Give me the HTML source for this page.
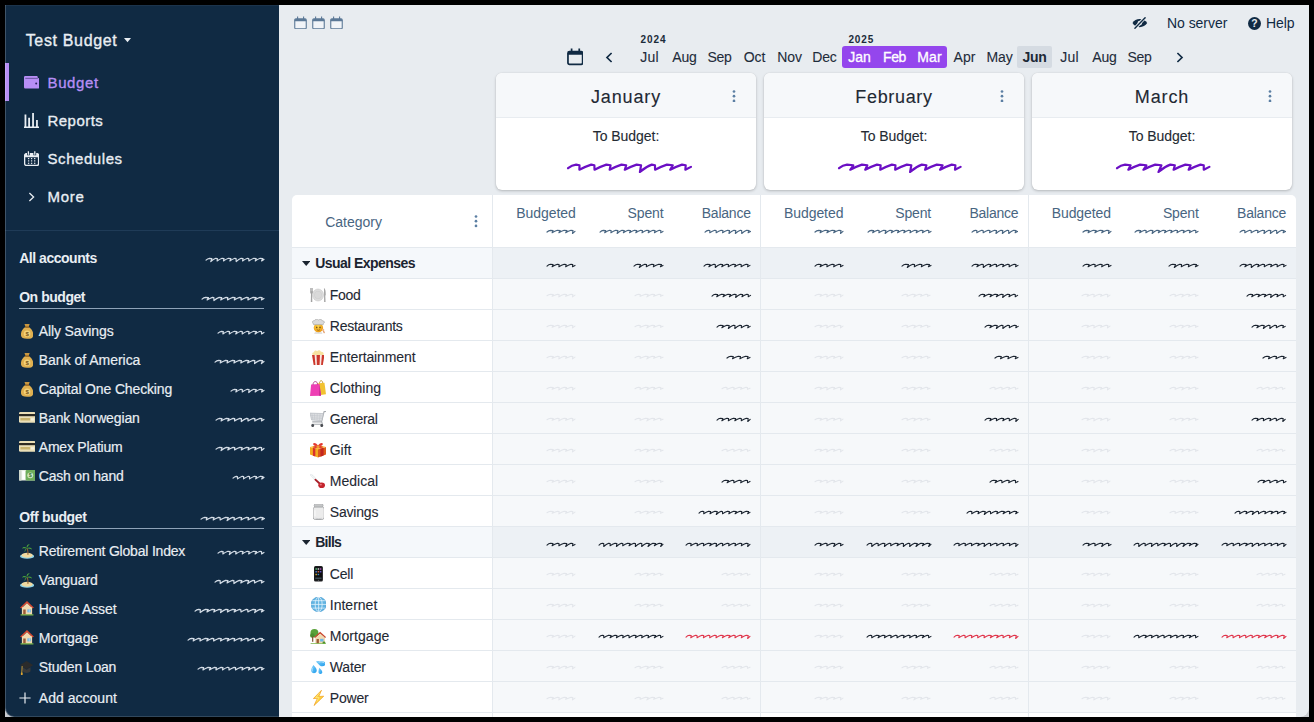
<!DOCTYPE html>
<html><head><meta charset="utf-8"><title>Actual</title>
<style>
html,body{margin:0;padding:0;background:#000;}
body{width:1314px;height:722px;overflow:hidden;position:relative;font-family:"Liberation Sans",sans-serif;}
#win{position:absolute;left:5px;top:5px;width:1304px;height:712px;background:#E8ECF0;overflow:hidden;border-radius:0 0 9px 9px;}
.a{position:absolute;display:block;}
.t{position:absolute;white-space:nowrap;font-weight:400;}
</style></head><body><div style="position:absolute;left:5px;top:5px;width:1304px;height:712px;background:#C9CCD0;"></div><div id="win">
<div class="a" style="left:0.00px;top:0.00px;width:274.00px;height:712.00px;background:#102A43;"></div>
<div class="t" style="font-size:16px;line-height:20px;top:25.66px;color:#E9EEF3;letter-spacing:0.655px;-webkit-text-stroke:0.35px #E9EEF3;left:20.70px;">Test Budget</div>
<svg class="a" style="left:119.00px;top:33.00px;" width="7" height="5" viewBox="0 0 7 5"><path d="M0 0 L7 0 L3.5 4.2 Z" fill="#E9EEF3"/></svg>
<div class="a" style="left:0.00px;top:58.00px;width:4.00px;height:38.00px;background:#B78EF5;"></div>
<svg class="a" style="left:19.00px;top:71.00px;" width="15.4" height="12.8" viewBox="0 0 15.4 12.8"><path d="M1.3 0 H12.6 Q13.8 0 13.8 1.2 V2 H14 Q15.3 2 15.3 3.3 V11.3 Q15.3 12.6 14 12.6 H1.3 Q0 12.6 0 11.3 V1.3 Q0 0 1.3 0 Z" fill="#B78EF5"/><path d="M1.3 2.35 H13.9" stroke="#2A2558" stroke-width="0.55"/><circle cx="12.2" cy="7.45" r="1" fill="#2A2060"/></svg>
<div class="t" style="font-size:15px;line-height:20px;top:67.80px;color:#B78EF5;letter-spacing:0.636px;-webkit-text-stroke:0.33px #B78EF5;left:42.50px;">Budget</div>
<svg class="a" style="left:19.00px;top:107.00px;" width="16" height="17" viewBox="0 0 16 17"><path d="M0 15.35 H15" fill="none" stroke="#E9EEF3" stroke-width="1.5"/><path d="M1.45 2.4 V15 M5.1 5.7 V15 M9.05 0.9 V15 M12.95 8 V15" stroke="#E9EEF3" stroke-width="1.8" fill="none"/></svg>
<div class="t" style="font-size:15px;line-height:20px;top:105.80px;color:#E9EEF3;letter-spacing:0.464px;-webkit-text-stroke:0.33px #E9EEF3;left:42.50px;">Reports</div>
<svg class="a" style="left:19.00px;top:146.00px;" width="15.2" height="15.2" viewBox="0 0 15.2 15.2"><rect x="0.65" y="2.6" width="13.9" height="11.9" rx="1.7" fill="none" stroke="#E9EEF3" stroke-width="1.3"/><path d="M0.65 4 Q0.65 2.6 2.2 2.6 H13 Q14.55 2.6 14.55 4 V6.2 H0.65 Z" fill="#E9EEF3"/><path d="M4.4 0.3 V4.2 M10.8 0.3 V4.2" stroke="#102A43" stroke-width="2.8"/><path d="M4.4 0.3 V3.7 M10.8 0.3 V3.7" stroke="#E9EEF3" stroke-width="1.3"/><rect x="3.95" y="7.00" width="1.3" height="1.2" fill="#E9EEF3"/><rect x="6.95" y="7.00" width="1.3" height="1.2" fill="#E9EEF3"/><rect x="10.05" y="7.00" width="1.3" height="1.2" fill="#E9EEF3"/><rect x="3.95" y="9.30" width="1.3" height="1.2" fill="#E9EEF3"/><rect x="6.95" y="9.30" width="1.3" height="1.2" fill="#E9EEF3"/><rect x="10.05" y="9.30" width="1.3" height="1.2" fill="#E9EEF3"/><rect x="3.95" y="11.70" width="1.3" height="1.2" fill="#E9EEF3"/><rect x="6.95" y="11.70" width="1.3" height="1.2" fill="#E9EEF3"/><rect x="10.05" y="11.70" width="1.3" height="1.2" fill="#E9EEF3"/></svg>
<div class="t" style="font-size:15px;line-height:20px;top:143.80px;color:#E9EEF3;letter-spacing:0.567px;-webkit-text-stroke:0.33px #E9EEF3;left:42.50px;">Schedules</div>
<svg class="a" style="left:23.00px;top:186.60px;" width="8" height="10" viewBox="0 0 8 10"><path d="M1.4 1 L5.6 5 L1.4 9" fill="none" stroke="#E9EEF3" stroke-width="1.3"/></svg>
<div class="t" style="font-size:15px;line-height:20px;top:181.80px;color:#E9EEF3;letter-spacing:0.725px;-webkit-text-stroke:0.33px #E9EEF3;left:42.50px;">More</div>
<div class="a" style="left:0.00px;top:225.00px;width:274.00px;height:1.00px;background:#1F3B57;"></div>
<div class="t" style="font-size:14px;line-height:20px;top:243.05px;color:#E9EEF3;letter-spacing:-0.471px;font-weight:700;left:14.20px;">All accounts</div>
<svg class="a" style="left:199.00px;top:251.40px;" width="62.00" height="8.20" viewBox="-2 -2 62.00 8.20"><path d="M0 2.11 Q1.59 0.58 3.37 0.32 L5.87 0.64 L4.77 3.58 Q7.31 1.28 9.73 0.32 L11.33 0.64 L11.13 2.88 Q13.67 1.28 16.09 0.32 L17.98 0.64 L17.49 2.88 Q20.03 1.28 22.45 0.32 L24.86 0.64 L23.85 2.88 Q26.39 1.28 28.81 0.32 L30.06 0.64 L30.21 3.58 Q32.75 1.28 35.17 0.32 L37.04 0.64 L36.57 2.88 Q39.11 1.28 41.53 0.32 L42.74 0.64 L42.93 2.88 Q45.47 1.28 47.89 0.32 L50.20 0.64 L49.29 2.88 Q51.83 1.28 54.25 0.32 L56.90 0.64 L55.65 2.88 L58.00 1.44" fill="none" stroke="#D3DCE6" stroke-width="1.2" stroke-linejoin="round" stroke-linecap="round"/></svg>
<div class="t" style="font-size:14px;line-height:20px;top:281.85px;color:#E9EEF3;letter-spacing:-0.464px;font-weight:700;left:14.20px;">On budget</div>
<svg class="a" style="left:195.00px;top:289.90px;" width="66.00" height="8.20" viewBox="-2 -2 66.00 8.20"><path d="M0 2.11 Q1.70 0.58 3.60 0.32 L6.44 0.64 L5.10 2.88 Q7.82 1.28 10.40 0.32 L11.83 0.64 L11.90 3.58 Q14.62 1.28 17.20 0.32 L19.69 0.64 L18.70 2.88 Q21.41 1.28 24.00 0.32 L25.79 0.64 L25.49 2.88 Q28.21 1.28 30.80 0.32 L33.08 0.64 L32.29 2.88 Q35.01 1.28 37.59 0.32 L39.14 0.64 L39.09 2.88 Q41.81 1.28 44.39 0.32 L46.33 0.64 L45.89 2.88 Q48.61 1.28 51.19 0.32 L54.11 0.64 L52.69 2.88 Q55.41 1.28 57.99 0.32 L60.17 0.64 L59.48 2.88 L62.00 1.44" fill="none" stroke="#D3DCE6" stroke-width="1.2" stroke-linejoin="round" stroke-linecap="round"/></svg>
<div class="a" style="left:14.00px;top:303.00px;width:245.00px;height:1.00px;background:#8FA3B8;"></div>
<svg class="a" style="left:16.00px;top:319.20px;" width="12.20" height="14.80" viewBox="2.4 1.2 11.20 13.80" preserveAspectRatio="none"><path d="M5.6 1.2 L10.4 1.2 L9.4 4 L6.6 4 Z" fill="#c9973f"/><path d="M6.4 4 L9.6 4 C12.6 6 14 9 13.6 12 C13.3 14.3 11.5 15 8 15 C4.5 15 2.7 14.3 2.4 12 C2 9 3.4 6 6.4 4 Z" fill="#e0b050"/><rect x="6.2" y="3.6" width="3.6" height="1.1" rx=".5" fill="#8a5a1c"/><circle cx="8" cy="10.2" r="3" fill="#f3d37a"/><text x="8" y="12.3" font-size="5.6" font-weight="700" text-anchor="middle" fill="#7a5516" font-family="Liberation Sans, sans-serif">$</text></svg>
<div class="t" style="font-size:14px;line-height:20px;top:315.95px;color:#E9EEF3;letter-spacing:-0.129px;-webkit-text-stroke:0.18px #E9EEF3;left:33.80px;">Ally Savings</div>
<svg class="a" style="left:211.00px;top:323.80px;" width="50.00" height="8.20" viewBox="-2 -2 50.00 8.20"><path d="M0 2.11 Q1.62 0.58 3.42 0.32 L5.32 0.64 L4.85 2.88 Q7.43 1.28 9.88 0.32 L11.43 0.64 L11.31 2.88 Q13.89 1.28 16.35 0.32 L18.85 0.64 L17.77 2.88 Q20.35 1.28 22.81 0.32 L24.28 0.64 L24.23 2.88 Q26.81 1.28 29.27 0.32 L31.00 0.64 L30.69 2.88 Q33.27 1.28 35.73 0.32 L38.43 0.64 L37.15 2.88 Q39.73 1.28 42.19 0.32 L43.48 0.64 L43.61 2.88 L46.00 1.44" fill="none" stroke="#D3DCE6" stroke-width="1.2" stroke-linejoin="round" stroke-linecap="round"/></svg>
<svg class="a" style="left:16.00px;top:348.20px;" width="12.20" height="14.80" viewBox="2.4 1.2 11.20 13.80" preserveAspectRatio="none"><path d="M5.6 1.2 L10.4 1.2 L9.4 4 L6.6 4 Z" fill="#c9973f"/><path d="M6.4 4 L9.6 4 C12.6 6 14 9 13.6 12 C13.3 14.3 11.5 15 8 15 C4.5 15 2.7 14.3 2.4 12 C2 9 3.4 6 6.4 4 Z" fill="#e0b050"/><rect x="6.2" y="3.6" width="3.6" height="1.1" rx=".5" fill="#8a5a1c"/><circle cx="8" cy="10.2" r="3" fill="#f3d37a"/><text x="8" y="12.3" font-size="5.6" font-weight="700" text-anchor="middle" fill="#7a5516" font-family="Liberation Sans, sans-serif">$</text></svg>
<div class="t" style="font-size:14px;line-height:20px;top:344.95px;color:#E9EEF3;letter-spacing:-0.024px;-webkit-text-stroke:0.18px #E9EEF3;left:33.80px;">Bank of America</div>
<svg class="a" style="left:208.00px;top:352.80px;" width="53.00" height="8.20" viewBox="-2 -2 53.00 8.20"><path d="M0 2.11 Q1.72 0.58 3.65 0.32 L5.88 0.64 L5.16 2.88 Q7.91 1.28 10.53 0.32 L12.61 0.64 L12.04 2.88 Q14.80 1.28 17.41 0.32 L19.69 0.64 L18.93 2.88 Q21.68 1.28 24.29 0.32 L26.45 0.64 L25.81 2.88 Q28.56 1.28 31.18 0.32 L33.79 0.64 L32.69 2.88 Q35.44 1.28 38.06 0.32 L39.87 0.64 L39.57 3.58 Q42.32 1.28 44.94 0.32 L47.58 0.64 L46.45 3.58 L49.00 1.44" fill="none" stroke="#D3DCE6" stroke-width="1.2" stroke-linejoin="round" stroke-linecap="round"/></svg>
<svg class="a" style="left:16.00px;top:377.20px;" width="12.20" height="14.80" viewBox="2.4 1.2 11.20 13.80" preserveAspectRatio="none"><path d="M5.6 1.2 L10.4 1.2 L9.4 4 L6.6 4 Z" fill="#c9973f"/><path d="M6.4 4 L9.6 4 C12.6 6 14 9 13.6 12 C13.3 14.3 11.5 15 8 15 C4.5 15 2.7 14.3 2.4 12 C2 9 3.4 6 6.4 4 Z" fill="#e0b050"/><rect x="6.2" y="3.6" width="3.6" height="1.1" rx=".5" fill="#8a5a1c"/><circle cx="8" cy="10.2" r="3" fill="#f3d37a"/><text x="8" y="12.3" font-size="5.6" font-weight="700" text-anchor="middle" fill="#7a5516" font-family="Liberation Sans, sans-serif">$</text></svg>
<div class="t" style="font-size:14px;line-height:20px;top:373.95px;color:#E9EEF3;letter-spacing:-0.144px;-webkit-text-stroke:0.18px #E9EEF3;left:33.80px;">Capital One Checking</div>
<svg class="a" style="left:224.00px;top:381.80px;" width="37.00" height="8.20" viewBox="-2 -2 37.00 8.20"><path d="M0 2.11 Q1.61 0.58 3.42 0.32 L5.66 0.64 L4.83 2.88 Q7.41 1.28 9.86 0.32 L11.31 0.64 L11.28 2.88 Q13.86 1.28 16.31 0.32 L18.11 0.64 L17.72 3.58 Q20.30 1.28 22.75 0.32 L25.23 0.64 L24.17 2.88 Q26.75 1.28 29.20 0.32 L31.35 0.64 L30.62 2.88 L33.00 1.44" fill="none" stroke="#D3DCE6" stroke-width="1.2" stroke-linejoin="round" stroke-linecap="round"/></svg>
<svg class="a" style="left:13.60px;top:407.40px;" width="16.60" height="10.80" viewBox="0.3 2.6 15.40 10.80" preserveAspectRatio="none"><rect x="0.3" y="2.6" width="15.4" height="10.8" rx="1.3" fill="#eadfb8"/><rect x="0.3" y="4.6" width="15.4" height="2.2" fill="#2d2a22"/><rect x="1.6" y="8.6" width="9" height="2.6" rx=".4" fill="#c9b36d"/><rect x="11.4" y="8.8" width="3" height="2.2" rx=".4" fill="#f7f2dd"/></svg>
<div class="t" style="font-size:14px;line-height:20px;top:402.95px;color:#E9EEF3;letter-spacing:-0.127px;-webkit-text-stroke:0.18px #E9EEF3;left:33.80px;">Bank Norwegian</div>
<svg class="a" style="left:209.00px;top:410.80px;" width="52.00" height="8.20" viewBox="-2 -2 52.00 8.20"><path d="M0 2.11 Q1.69 0.58 3.57 0.32 L5.96 0.64 L5.06 2.88 Q7.75 1.28 10.31 0.32 L12.97 0.64 L11.80 2.88 Q14.49 1.28 17.06 0.32 L18.71 0.64 L18.54 2.88 Q21.24 1.28 23.80 0.32 L25.44 0.64 L25.28 3.58 Q27.98 1.28 30.54 0.32 L32.03 0.64 L32.02 2.88 Q34.72 1.28 37.28 0.32 L38.91 0.64 L38.76 2.88 Q41.46 1.28 44.02 0.32 L46.00 0.64 L45.51 2.88 L48.00 1.44" fill="none" stroke="#D3DCE6" stroke-width="1.2" stroke-linejoin="round" stroke-linecap="round"/></svg>
<svg class="a" style="left:13.60px;top:436.40px;" width="16.60" height="10.80" viewBox="0.3 2.6 15.40 10.80" preserveAspectRatio="none"><rect x="0.3" y="2.6" width="15.4" height="10.8" rx="1.3" fill="#eadfb8"/><rect x="0.3" y="4.6" width="15.4" height="2.2" fill="#2d2a22"/><rect x="1.6" y="8.6" width="9" height="2.6" rx=".4" fill="#c9b36d"/><rect x="11.4" y="8.8" width="3" height="2.2" rx=".4" fill="#f7f2dd"/></svg>
<div class="t" style="font-size:14px;line-height:20px;top:431.95px;color:#E9EEF3;letter-spacing:-0.228px;-webkit-text-stroke:0.18px #E9EEF3;left:33.80px;">Amex Platium</div>
<svg class="a" style="left:209.00px;top:439.80px;" width="52.00" height="8.20" viewBox="-2 -2 52.00 8.20"><path d="M0 2.11 Q1.69 0.58 3.57 0.32 L5.99 0.64 L5.06 3.58 Q7.75 1.28 10.31 0.32 L13.12 0.64 L11.80 2.88 Q14.49 1.28 17.06 0.32 L18.75 0.64 L18.54 2.88 Q21.24 1.28 23.80 0.32 L26.14 0.64 L25.28 2.88 Q27.98 1.28 30.54 0.32 L32.93 0.64 L32.02 2.88 Q34.72 1.28 37.28 0.32 L39.82 0.64 L38.76 2.88 Q41.46 1.28 44.02 0.32 L45.66 0.64 L45.51 3.58 L48.00 1.44" fill="none" stroke="#D3DCE6" stroke-width="1.2" stroke-linejoin="round" stroke-linecap="round"/></svg>
<svg class="a" style="left:13.60px;top:465.30px;" width="16.80" height="10.60" viewBox="0.3 3 15.40 10.00" preserveAspectRatio="none"><rect x="0.3" y="3" width="15.4" height="10" rx="1" fill="#e9efe4"/><rect x="6.4" y="3" width="9.3" height="10" rx="1" fill="#6fae5b"/><rect x="0.3" y="3" width="2.2" height="10" fill="#cfd8cc"/><circle cx="10.6" cy="8" r="2.7" fill="#cfe7c3"/><text x="10.6" y="10" font-size="5" font-weight="700" text-anchor="middle" fill="#3d7a32" font-family="Liberation Sans, sans-serif">$</text><rect x="3.2" y="4" width="2.6" height="8" fill="#ffffff"/></svg>
<div class="t" style="font-size:14px;line-height:20px;top:460.95px;color:#E9EEF3;letter-spacing:-0.202px;-webkit-text-stroke:0.18px #E9EEF3;left:33.80px;">Cash on hand</div>
<svg class="a" style="left:226.00px;top:468.80px;" width="35.00" height="8.20" viewBox="-2 -2 35.00 8.20"><path d="M0 2.11 Q1.51 0.58 3.21 0.32 L4.38 0.64 L4.54 2.88 Q6.96 1.28 9.26 0.32 L10.64 0.64 L10.60 2.88 Q13.02 1.28 15.32 0.32 L16.49 0.64 L16.65 2.88 Q19.07 1.28 21.37 0.32 L23.51 0.64 L22.71 2.88 Q25.13 1.28 27.43 0.32 L30.03 0.64 L28.76 2.88 L31.00 1.44" fill="none" stroke="#D3DCE6" stroke-width="1.2" stroke-linejoin="round" stroke-linecap="round"/></svg>
<div class="t" style="font-size:14px;line-height:20px;top:501.85px;color:#E9EEF3;letter-spacing:-0.333px;font-weight:700;left:14.20px;">Off budget</div>
<svg class="a" style="left:193.50px;top:509.90px;" width="67.50" height="8.20" viewBox="-2 -2 67.50 8.20"><path d="M0 2.11 Q1.74 0.58 3.69 0.32 L5.92 0.64 L5.22 2.88 Q8.01 1.28 10.65 0.32 L12.99 0.64 L12.18 2.88 Q14.97 1.28 17.62 0.32 L19.05 0.64 L19.15 2.88 Q21.93 1.28 24.58 0.32 L27.30 0.64 L26.11 3.58 Q28.90 1.28 31.54 0.32 L33.26 0.64 L33.07 2.88 Q35.86 1.28 38.50 0.32 L40.61 0.64 L40.04 2.88 Q42.82 1.28 45.47 0.32 L47.59 0.64 L47.00 2.88 Q49.78 1.28 52.43 0.32 L54.00 0.64 L53.96 2.88 Q56.75 1.28 59.39 0.32 L62.17 0.64 L60.92 2.88 L63.50 1.44" fill="none" stroke="#D3DCE6" stroke-width="1.2" stroke-linejoin="round" stroke-linecap="round"/></svg>
<div class="a" style="left:14.00px;top:523.00px;width:245.00px;height:1.00px;background:#8FA3B8;"></div>
<svg class="a" style="left:15.20px;top:538.80px;" width="14.20" height="14.80" viewBox="0.8 1.2 14.40 14.20" preserveAspectRatio="none"><ellipse cx="8" cy="13" rx="7.2" ry="2.4" fill="#8fd3e8"/><ellipse cx="8" cy="12" rx="5.6" ry="2.3" fill="#f1d9a0"/><path d="M8.3 11.6 C8.5 9 8.2 7 7.4 5.2 L8.4 5 C9.4 7 9.6 9.2 9.4 11.6 Z" fill="#8a5a2b"/><path d="M7.8 5.2 C5.8 3.4 3.8 3.8 2.6 5.6 C4.4 5 6 5.2 7.8 5.2 Z M7.8 5.2 C7 2.6 8.6 1.2 10.8 1.4 C9.4 2.4 8.6 3.6 7.8 5.2 Z M7.8 5.2 C10 3.8 12.4 4.4 13.2 6.6 C11.4 5.6 9.6 5.4 7.8 5.2 Z M7.8 5.2 C6.2 5.8 5.2 7.2 5.6 9 C6.2 7.4 7 6.2 7.8 5.2 Z" fill="#4aa33c"/></svg>
<div class="t" style="font-size:14px;line-height:20px;top:535.65px;color:#E9EEF3;letter-spacing:-0.202px;-webkit-text-stroke:0.18px #E9EEF3;left:33.80px;">Retirement Global Index</div>
<svg class="a" style="left:211.00px;top:543.50px;" width="50.00" height="8.20" viewBox="-2 -2 50.00 8.20"><path d="M0 2.11 Q1.62 0.58 3.42 0.32 L5.10 0.64 L4.85 2.88 Q7.43 1.28 9.88 0.32 L12.13 0.64 L11.31 3.58 Q13.89 1.28 16.35 0.32 L17.97 0.64 L17.77 2.88 Q20.35 1.28 22.81 0.32 L25.03 0.64 L24.23 2.88 Q26.81 1.28 29.27 0.32 L31.21 0.64 L30.69 2.88 Q33.27 1.28 35.73 0.32 L38.49 0.64 L37.15 2.88 Q39.73 1.28 42.19 0.32 L43.53 0.64 L43.61 2.88 L46.00 1.44" fill="none" stroke="#D3DCE6" stroke-width="1.2" stroke-linejoin="round" stroke-linecap="round"/></svg>
<svg class="a" style="left:15.20px;top:567.80px;" width="14.20" height="14.80" viewBox="0.8 1.2 14.40 14.20" preserveAspectRatio="none"><ellipse cx="8" cy="13" rx="7.2" ry="2.4" fill="#8fd3e8"/><ellipse cx="8" cy="12" rx="5.6" ry="2.3" fill="#f1d9a0"/><path d="M8.3 11.6 C8.5 9 8.2 7 7.4 5.2 L8.4 5 C9.4 7 9.6 9.2 9.4 11.6 Z" fill="#8a5a2b"/><path d="M7.8 5.2 C5.8 3.4 3.8 3.8 2.6 5.6 C4.4 5 6 5.2 7.8 5.2 Z M7.8 5.2 C7 2.6 8.6 1.2 10.8 1.4 C9.4 2.4 8.6 3.6 7.8 5.2 Z M7.8 5.2 C10 3.8 12.4 4.4 13.2 6.6 C11.4 5.6 9.6 5.4 7.8 5.2 Z M7.8 5.2 C6.2 5.8 5.2 7.2 5.6 9 C6.2 7.4 7 6.2 7.8 5.2 Z" fill="#4aa33c"/></svg>
<div class="t" style="font-size:14px;line-height:20px;top:564.65px;color:#E9EEF3;letter-spacing:-0.099px;-webkit-text-stroke:0.18px #E9EEF3;left:33.80px;">Vanguard</div>
<svg class="a" style="left:208.00px;top:572.50px;" width="53.00" height="8.20" viewBox="-2 -2 53.00 8.20"><path d="M0 2.11 Q1.72 0.58 3.65 0.32 L5.14 0.64 L5.16 3.58 Q7.91 1.28 10.53 0.32 L12.97 0.64 L12.04 2.88 Q14.80 1.28 17.41 0.32 L18.90 0.64 L18.93 3.58 Q21.68 1.28 24.29 0.32 L26.85 0.64 L25.81 2.88 Q28.56 1.28 31.18 0.32 L33.71 0.64 L32.69 3.58 Q35.44 1.28 38.06 0.32 L39.59 0.64 L39.57 2.88 Q42.32 1.28 44.94 0.32 L46.99 0.64 L46.45 2.88 L49.00 1.44" fill="none" stroke="#D3DCE6" stroke-width="1.2" stroke-linejoin="round" stroke-linecap="round"/></svg>
<svg class="a" style="left:15.00px;top:596.40px;" width="14.00" height="14.50" viewBox="0.6 1.4 14.80 14.00" preserveAspectRatio="none"><path d="M2.6 7.2 L13.4 7.2 L13.4 14.6 L2.6 14.6 Z" fill="#f0d9b0"/><path d="M8 1.4 L15.4 8 L13.6 8.4 L8 3.6 L2.4 8.4 L0.6 8 Z" fill="#d9482f"/><path d="M8 3.6 L13.4 8.2 L13.4 8.6 L2.6 8.6 L2.6 8.2 Z" fill="#f0d9b0"/><rect x="4" y="9.6" width="2.6" height="5" fill="#9a5b36"/><rect x="8.4" y="9.4" width="3.6" height="3" fill="#6fb6e6"/><rect x="10" y="9.4" width=".5" height="3" fill="#fff"/><rect x="1.2" y="14.2" width="13.6" height="1.2" fill="#7ab648"/></svg>
<div class="t" style="font-size:14px;line-height:20px;top:593.65px;color:#E9EEF3;letter-spacing:-0.076px;-webkit-text-stroke:0.18px #E9EEF3;left:33.80px;">House Asset</div>
<svg class="a" style="left:188.00px;top:601.50px;" width="73.00" height="8.20" viewBox="-2 -2 73.00 8.20"><path d="M0 2.11 Q1.70 0.58 3.61 0.32 L5.26 0.64 L5.11 3.58 Q7.84 1.28 10.43 0.32 L13.20 0.64 L11.93 2.88 Q14.66 1.28 17.25 0.32 L19.72 0.64 L18.75 2.88 Q21.48 1.28 24.07 0.32 L26.20 0.64 L25.57 3.58 Q28.30 1.28 30.89 0.32 L33.04 0.64 L32.39 2.88 Q35.11 1.28 37.70 0.32 L40.44 0.64 L39.20 2.88 Q41.93 1.28 44.52 0.32 L45.82 0.64 L46.02 2.88 Q48.75 1.28 51.34 0.32 L52.84 0.64 L52.84 2.88 Q55.57 1.28 58.16 0.32 L60.65 0.64 L59.66 3.58 Q62.39 1.28 64.98 0.32 L67.64 0.64 L66.48 2.88 L69.00 1.44" fill="none" stroke="#D3DCE6" stroke-width="1.2" stroke-linejoin="round" stroke-linecap="round"/></svg>
<svg class="a" style="left:15.00px;top:625.40px;" width="14.00" height="14.50" viewBox="0.6 1.4 14.80 14.00" preserveAspectRatio="none"><path d="M2.6 7.2 L13.4 7.2 L13.4 14.6 L2.6 14.6 Z" fill="#f0d9b0"/><path d="M8 1.4 L15.4 8 L13.6 8.4 L8 3.6 L2.4 8.4 L0.6 8 Z" fill="#d9482f"/><path d="M8 3.6 L13.4 8.2 L13.4 8.6 L2.6 8.6 L2.6 8.2 Z" fill="#f0d9b0"/><rect x="4" y="9.6" width="2.6" height="5" fill="#9a5b36"/><rect x="8.4" y="9.4" width="3.6" height="3" fill="#6fb6e6"/><rect x="10" y="9.4" width=".5" height="3" fill="#fff"/><rect x="1.2" y="14.2" width="13.6" height="1.2" fill="#7ab648"/></svg>
<div class="t" style="font-size:14px;line-height:20px;top:622.65px;color:#E9EEF3;letter-spacing:0.055px;-webkit-text-stroke:0.18px #E9EEF3;left:33.80px;">Mortgage</div>
<svg class="a" style="left:181.00px;top:630.50px;" width="80.00" height="8.20" viewBox="-2 -2 80.00 8.20"><path d="M0 2.11 Q1.71 0.58 3.62 0.32 L5.96 0.64 L5.13 2.88 Q7.86 1.28 10.46 0.32 L12.21 0.64 L11.96 2.88 Q14.69 1.28 17.29 0.32 L20.05 0.64 L18.79 2.88 Q21.53 1.28 24.13 0.32 L25.73 0.64 L25.63 2.88 Q28.36 1.28 30.96 0.32 L33.27 0.64 L32.46 2.88 Q35.20 1.28 37.79 0.32 L40.68 0.64 L39.30 2.88 Q42.03 1.28 44.63 0.32 L46.66 0.64 L46.13 2.88 Q48.87 1.28 51.46 0.32 L53.81 0.64 L52.97 2.88 Q55.70 1.28 58.30 0.32 L60.10 0.64 L59.80 2.88 Q62.54 1.28 65.13 0.32 L66.52 0.64 L66.64 2.88 Q69.37 1.28 71.97 0.32 L74.47 0.64 L73.47 2.88 L76.00 1.44" fill="none" stroke="#D3DCE6" stroke-width="1.2" stroke-linejoin="round" stroke-linecap="round"/></svg>
<svg class="a" style="left:15.00px;top:655.70px;" width="13.20" height="14.20" viewBox="0.6 3 14.80 11.30" preserveAspectRatio="none"><path d="M8 3 L15.4 6.2 L8 9.6 L0.6 6.2 Z" fill="#2b2b2b"/><path d="M3.6 8 L3.6 11.2 C5.6 13 10.4 13 12.4 11.2 L12.4 8 L8 10 Z" fill="#3a3a3a"/><path d="M3 7 L2.6 12.6" stroke="#e0a52e" stroke-width="1" fill="none"/><circle cx="2.6" cy="13.2" r="1.1" fill="#e0a52e"/></svg>
<div class="t" style="font-size:14px;line-height:20px;top:651.65px;color:#E9EEF3;letter-spacing:-0.182px;-webkit-text-stroke:0.18px #E9EEF3;left:33.80px;">Studen Loan</div>
<svg class="a" style="left:191.00px;top:659.50px;" width="70.00" height="8.20" viewBox="-2 -2 70.00 8.20"><path d="M0 2.11 Q1.63 0.58 3.46 0.32 L5.61 0.64 L4.89 2.88 Q7.50 1.28 9.98 0.32 L12.62 0.64 L11.41 2.88 Q14.02 1.28 16.50 0.32 L18.31 0.64 L17.93 2.88 Q20.54 1.28 23.02 0.32 L24.92 0.64 L24.46 2.88 Q27.07 1.28 29.54 0.32 L30.93 0.64 L30.98 2.88 Q33.59 1.28 36.07 0.32 L37.55 0.64 L37.50 2.88 Q40.11 1.28 42.59 0.32 L44.78 0.64 L44.02 2.88 Q46.63 1.28 49.11 0.32 L51.53 0.64 L50.54 2.88 Q53.15 1.28 55.63 0.32 L56.97 0.64 L57.07 3.58 Q59.67 1.28 62.15 0.32 L64.26 0.64 L63.59 2.88 L66.00 1.44" fill="none" stroke="#D3DCE6" stroke-width="1.2" stroke-linejoin="round" stroke-linecap="round"/></svg>
<svg class="a" style="left:14.00px;top:687.00px;" width="12" height="12" viewBox="0 0 12 12"><path d="M6 0.4 V11.6 M0.4 6 H11.6" stroke="#E9EEF3" stroke-width="1.2"/></svg>
<div class="t" style="font-size:14px;line-height:20px;top:682.75px;color:#E9EEF3;letter-spacing:0.025px;-webkit-text-stroke:0.18px #E9EEF3;left:33.80px;">Add account</div>
<svg class="a" style="left:289.00px;top:10.60px;" width="13.0" height="13.4" viewBox="0 0 13 13.4"><rect x="0.75" y="2.9" width="11.5" height="9.9" rx="1.15" fill="#F1F4F8" stroke="#5B7896" stroke-width="1.1"/><path d="M0.75 4.2 Q0.75 2.9 2.2 2.9 H10.8 Q12.25 2.9 12.25 4.2 V5.3 H0.75 Z" fill="#5B7896"/><path d="M3.6 0.4 V3.4 M9.6 0.4 V3.4" stroke="#5B7896" stroke-width="1.1"/></svg>
<svg class="a" style="left:307.00px;top:10.60px;" width="13.0" height="13.4" viewBox="0 0 13 13.4"><rect x="0.75" y="2.9" width="11.5" height="9.9" rx="1.15" fill="#F1F4F8" stroke="#5B7896" stroke-width="1.1"/><path d="M0.75 4.2 Q0.75 2.9 2.2 2.9 H10.8 Q12.25 2.9 12.25 4.2 V5.3 H0.75 Z" fill="#5B7896"/><path d="M3.6 0.4 V3.4 M9.6 0.4 V3.4" stroke="#5B7896" stroke-width="1.1"/></svg>
<svg class="a" style="left:325.00px;top:10.60px;" width="13.0" height="13.4" viewBox="0 0 13 13.4"><rect x="0.75" y="2.9" width="11.5" height="9.9" rx="1.15" fill="#F1F4F8" stroke="#5B7896" stroke-width="1.1"/><path d="M0.75 4.2 Q0.75 2.9 2.2 2.9 H10.8 Q12.25 2.9 12.25 4.2 V5.3 H0.75 Z" fill="#5B7896"/><path d="M3.6 0.4 V3.4 M9.6 0.4 V3.4" stroke="#5B7896" stroke-width="1.1"/></svg>
<svg class="a" style="left:561.60px;top:43.40px;" width="16.6" height="17.11" viewBox="0 0 13 13.4"><rect x="0.75" y="2.9" width="11.5" height="9.9" rx="1.15" fill="none" stroke="#102A43" stroke-width="1.35"/><path d="M0.75 4.2 Q0.75 2.9 2.2 2.9 H10.8 Q12.25 2.9 12.25 4.2 V5.3 H0.75 Z" fill="#102A43"/><path d="M3.6 0.4 V3.4 M9.6 0.4 V3.4" stroke="#102A43" stroke-width="1.35"/></svg>
<svg class="a" style="left:600.00px;top:47.00px;" width="9" height="11" viewBox="0 0 9 11"><path d="M6.6 1 L2 5.5 L6.6 10" fill="none" stroke="#102A43" stroke-width="1.7"/></svg>
<svg class="a" style="left:1170.00px;top:47.00px;" width="9" height="11" viewBox="0 0 9 11"><path d="M2.4 1 L7 5.5 L2.4 10" fill="none" stroke="#102A43" stroke-width="1.7"/></svg>
<div class="a" style="left:837.00px;top:41.00px;width:105.00px;height:22.00px;background:#9446ED;border-radius:3px;"></div>
<div class="a" style="left:1012.00px;top:41.00px;width:35.00px;height:22.00px;background:#D5DBE2;border-radius:2px;"></div>
<div class="t" style="font-size:14px;line-height:20px;top:42.15px;color:#1F2C3B;letter-spacing:0.119px;-webkit-text-stroke:0.10px #1F2C3B;left:635.37px;">Jul</div>
<div class="t" style="font-size:14px;line-height:20px;top:42.15px;color:#1F2C3B;letter-spacing:-0.094px;-webkit-text-stroke:0.10px #1F2C3B;left:667.19px;">Aug</div>
<div class="t" style="font-size:14px;line-height:20px;top:42.15px;color:#1F2C3B;letter-spacing:-0.343px;-webkit-text-stroke:0.10px #1F2C3B;left:702.56px;">Sep</div>
<div class="t" style="font-size:14px;line-height:20px;top:42.15px;color:#1F2C3B;letter-spacing:-0.053px;-webkit-text-stroke:0.10px #1F2C3B;left:738.69px;">Oct</div>
<div class="t" style="font-size:14px;line-height:20px;top:42.15px;color:#1F2C3B;letter-spacing:-0.085px;-webkit-text-stroke:0.10px #1F2C3B;left:772.18px;">Nov</div>
<div class="t" style="font-size:14px;line-height:20px;top:42.15px;color:#1F2C3B;letter-spacing:-0.169px;-webkit-text-stroke:0.10px #1F2C3B;left:807.30px;">Dec</div>
<div class="t" style="font-size:14px;line-height:20px;top:42.15px;color:#FFFFFF;letter-spacing:0.036px;-webkit-text-stroke:0.30px #FFFFFF;left:843.16px;">Jan</div>
<div class="t" style="font-size:14px;line-height:20px;top:42.15px;color:#FFFFFF;letter-spacing:-0.420px;-webkit-text-stroke:0.30px #FFFFFF;left:878.07px;">Feb</div>
<div class="t" style="font-size:14px;line-height:20px;top:42.15px;color:#FFFFFF;letter-spacing:0.054px;-webkit-text-stroke:0.30px #FFFFFF;left:912.36px;">Mar</div>
<div class="t" style="font-size:14px;line-height:20px;top:42.15px;color:#1F2C3B;letter-spacing:0.012px;-webkit-text-stroke:0.10px #1F2C3B;left:948.59px;">Apr</div>
<div class="t" style="font-size:14px;line-height:20px;top:42.15px;color:#1F2C3B;letter-spacing:-0.096px;-webkit-text-stroke:0.10px #1F2C3B;left:981.42px;">May</div>
<div class="t" style="font-size:14px;line-height:20px;top:42.15px;color:#1C2836;letter-spacing:-0.369px;font-weight:700;left:1017.61px;">Jun</div>
<div class="t" style="font-size:14px;line-height:20px;top:42.15px;color:#1F2C3B;letter-spacing:0.119px;-webkit-text-stroke:0.10px #1F2C3B;left:1055.37px;">Jul</div>
<div class="t" style="font-size:14px;line-height:20px;top:42.15px;color:#1F2C3B;letter-spacing:-0.094px;-webkit-text-stroke:0.10px #1F2C3B;left:1087.19px;">Aug</div>
<div class="t" style="font-size:14px;line-height:20px;top:42.15px;color:#1F2C3B;letter-spacing:-0.343px;-webkit-text-stroke:0.10px #1F2C3B;left:1122.56px;">Sep</div>
<div class="t" style="font-size:10px;line-height:20px;top:24.74px;color:#1B2B3A;letter-spacing:0.925px;font-weight:700;left:635.60px;">2024</div>
<div class="t" style="font-size:10px;line-height:20px;top:24.74px;color:#1B2B3A;letter-spacing:0.871px;font-weight:700;left:843.40px;">2025</div>
<svg class="a" style="left:1126.60px;top:12.40px;" width="16" height="12.4" viewBox="0 0 16 12.4"><path d="M0.5 6.1 C3.2 0.6 12 0.6 15.2 6.1 C12 11.6 3.2 11.6 0.5 6.1 Z" fill="#102A43"/><circle cx="7.8" cy="6.1" r="2.3" fill="#DCE3EA"/><path d="M13.4 0.2 L2.4 11.9" stroke="#E8ECF0" stroke-width="3.3"/><path d="M13.1 0.7 L2.9 11.3" stroke="#102A43" stroke-width="1.35" stroke-linecap="round"/></svg>
<div class="t" style="font-size:14px;line-height:20px;top:8.45px;color:#102A43;letter-spacing:-0.042px;left:1162.00px;">No server</div>
<svg class="a" style="left:1243.00px;top:12.00px;" width="13" height="13" viewBox="0 0 13 13"><circle cx="6.5" cy="6.5" r="6.5" fill="#102A43"/><text x="6.5" y="10.3" font-size="10.4" font-weight="700" text-anchor="middle" fill="#E8ECF0" font-family="Liberation Sans, sans-serif">?</text></svg>
<div class="t" style="font-size:14px;line-height:20px;top:8.45px;color:#102A43;letter-spacing:-0.111px;left:1261.00px;">Help</div>
<div class="a" style="left:491.00px;top:68.00px;width:260.00px;height:117.00px;background:#fff;border-radius:6px;box-shadow:0 1px 3px rgba(0,0,0,.22),0 0 1px rgba(0,0,0,.12);overflow:hidden;"></div>
<div class="a" style="left:491.00px;top:68.00px;width:260.00px;height:44.00px;background:#F6F8FA;border-radius:6px 6px 0 0;"></div>
<div class="a" style="left:491.00px;top:112.00px;width:260.00px;height:1.00px;background:#E8ECF0;"></div>
<div class="t" style="font-size:18px;line-height:20px;top:81.76px;color:#1F2933;letter-spacing:0.859px;-webkit-text-stroke:0.12px #1F2933;left:585.97px;">January</div>
<svg class="a" style="left:726.50px;top:84.60px;" width="4" height="12.4" viewBox="0 0 4 12.4"><circle cx="2" cy="1.5" r="1.35" fill="#5C7FA3"/><circle cx="2" cy="6.2" r="1.35" fill="#5C7FA3"/><circle cx="2" cy="10.9" r="1.35" fill="#5C7FA3"/></svg>
<div class="t" style="font-size:14px;line-height:20px;top:121.15px;color:#242B33;letter-spacing:-0.041px;-webkit-text-stroke:0.10px #242B33;left:587.73px;">To Budget:</div>
<svg class="a" style="left:560.60px;top:156.80px;" width="127.00" height="11.40" viewBox="-2 -2 127.00 11.40"><path d="M0 4.22 Q3.79 1.15 8.03 0.64 L11.45 1.28 L11.36 5.76 Q17.42 2.56 23.18 0.64 L26.32 1.28 L26.51 5.76 Q32.57 2.56 38.32 0.64 L42.53 1.28 L41.66 5.76 Q47.72 2.56 53.47 0.64 L58.19 1.28 L56.80 5.76 Q62.86 2.56 68.62 0.64 L73.07 1.28 L71.95 8.06 Q78.01 2.56 83.77 0.64 L86.98 1.28 L87.10 5.76 Q93.16 2.56 98.92 0.64 L104.80 1.28 L102.25 5.76 Q108.31 2.56 114.06 0.64 L117.75 1.28 L117.40 5.76 L123.00 2.88" fill="none" stroke="#6B0FC4" stroke-width="2.2" stroke-linejoin="round" stroke-linecap="round"/></svg>
<div class="a" style="left:759.00px;top:68.00px;width:260.00px;height:117.00px;background:#fff;border-radius:6px;box-shadow:0 1px 3px rgba(0,0,0,.22),0 0 1px rgba(0,0,0,.12);overflow:hidden;"></div>
<div class="a" style="left:759.00px;top:68.00px;width:260.00px;height:44.00px;background:#F6F8FA;border-radius:6px 6px 0 0;"></div>
<div class="a" style="left:759.00px;top:112.00px;width:260.00px;height:1.00px;background:#E8ECF0;"></div>
<div class="t" style="font-size:18px;line-height:20px;top:81.76px;color:#1F2933;letter-spacing:0.655px;-webkit-text-stroke:0.12px #1F2933;left:850.37px;">February</div>
<svg class="a" style="left:994.50px;top:84.60px;" width="4" height="12.4" viewBox="0 0 4 12.4"><circle cx="2" cy="1.5" r="1.35" fill="#5C7FA3"/><circle cx="2" cy="6.2" r="1.35" fill="#5C7FA3"/><circle cx="2" cy="10.9" r="1.35" fill="#5C7FA3"/></svg>
<div class="t" style="font-size:14px;line-height:20px;top:121.15px;color:#242B33;letter-spacing:-0.041px;-webkit-text-stroke:0.10px #242B33;left:855.73px;">To Budget:</div>
<svg class="a" style="left:831.80px;top:156.80px;" width="125.60" height="11.40" viewBox="-2 -2 125.60 11.40"><path d="M0 4.22 Q3.74 1.15 7.94 0.64 L14.24 1.28 L11.23 5.76 Q17.22 2.56 22.91 0.64 L28.29 1.28 L26.21 5.76 Q32.20 2.56 37.89 0.64 L41.62 1.28 L41.18 5.76 Q47.17 2.56 52.86 0.64 L56.46 1.28 L56.16 5.76 Q62.15 2.56 67.84 0.64 L72.33 1.28 L71.13 8.06 Q77.12 2.56 82.81 0.64 L87.44 1.28 L86.11 5.76 Q92.10 2.56 97.79 0.64 L103.62 1.28 L101.08 5.76 Q107.07 2.56 112.76 0.64 L116.45 1.28 L116.06 5.76 L121.60 2.88" fill="none" stroke="#6B0FC4" stroke-width="2.2" stroke-linejoin="round" stroke-linecap="round"/></svg>
<div class="a" style="left:1027.00px;top:68.00px;width:260.00px;height:117.00px;background:#fff;border-radius:6px;box-shadow:0 1px 3px rgba(0,0,0,.22),0 0 1px rgba(0,0,0,.12);overflow:hidden;"></div>
<div class="a" style="left:1027.00px;top:68.00px;width:260.00px;height:44.00px;background:#F6F8FA;border-radius:6px 6px 0 0;"></div>
<div class="a" style="left:1027.00px;top:112.00px;width:260.00px;height:1.00px;background:#E8ECF0;"></div>
<div class="t" style="font-size:18px;line-height:20px;top:81.76px;color:#1F2933;letter-spacing:0.895px;-webkit-text-stroke:0.12px #1F2933;left:1129.76px;">March</div>
<svg class="a" style="left:1262.50px;top:84.60px;" width="4" height="12.4" viewBox="0 0 4 12.4"><circle cx="2" cy="1.5" r="1.35" fill="#5C7FA3"/><circle cx="2" cy="6.2" r="1.35" fill="#5C7FA3"/><circle cx="2" cy="10.9" r="1.35" fill="#5C7FA3"/></svg>
<div class="t" style="font-size:14px;line-height:20px;top:121.15px;color:#242B33;letter-spacing:-0.041px;-webkit-text-stroke:0.10px #242B33;left:1123.73px;">To Budget:</div>
<svg class="a" style="left:1109.80px;top:156.80px;" width="96.40" height="11.40" viewBox="-2 -2 96.40 11.40"><path d="M0 4.22 Q3.77 1.15 8.00 0.64 L13.56 1.28 L11.32 5.76 Q17.36 2.56 23.10 0.64 L29.38 1.28 L26.42 5.76 Q32.46 2.56 38.20 0.64 L44.41 1.28 L41.52 8.06 Q47.56 2.56 53.30 0.64 L57.85 1.28 L56.62 5.76 Q62.66 2.56 68.39 0.64 L73.61 1.28 L71.72 5.76 Q77.75 2.56 83.49 0.64 L86.77 1.28 L86.81 5.76 L92.40 2.88" fill="none" stroke="#6B0FC4" stroke-width="2.2" stroke-linejoin="round" stroke-linecap="round"/></svg>
<div class="a" style="left:287.00px;top:190.00px;width:1004.00px;height:540.00px;background:#fff;border-radius:5px 5px 0 0;"></div>
<div class="a" style="left:488.00px;top:243.00px;width:803.00px;height:465.00px;background:#F6F8FA;"></div>
<div class="a" style="left:287.00px;top:243.00px;width:200.00px;height:30.00px;background:#F5F8FB;"></div>
<div class="a" style="left:488.00px;top:243.00px;width:803.00px;height:30.00px;background:#EDF1F5;"></div>
<div class="a" style="left:287.00px;top:522.00px;width:200.00px;height:30.00px;background:#F5F8FB;"></div>
<div class="a" style="left:488.00px;top:522.00px;width:803.00px;height:30.00px;background:#EDF1F5;"></div>
<div class="a" style="left:287.00px;top:242.00px;width:1004.00px;height:1.00px;background:#E4E9EE;"></div>
<div class="a" style="left:287.00px;top:273.00px;width:1004.00px;height:1.00px;background:#E4E9EE;"></div>
<div class="a" style="left:287.00px;top:304.00px;width:1004.00px;height:1.00px;background:#E4E9EE;"></div>
<div class="a" style="left:287.00px;top:335.00px;width:1004.00px;height:1.00px;background:#E4E9EE;"></div>
<div class="a" style="left:287.00px;top:366.00px;width:1004.00px;height:1.00px;background:#E4E9EE;"></div>
<div class="a" style="left:287.00px;top:397.00px;width:1004.00px;height:1.00px;background:#E4E9EE;"></div>
<div class="a" style="left:287.00px;top:428.00px;width:1004.00px;height:1.00px;background:#E4E9EE;"></div>
<div class="a" style="left:287.00px;top:459.00px;width:1004.00px;height:1.00px;background:#E4E9EE;"></div>
<div class="a" style="left:287.00px;top:490.00px;width:1004.00px;height:1.00px;background:#E4E9EE;"></div>
<div class="a" style="left:287.00px;top:521.00px;width:1004.00px;height:1.00px;background:#E4E9EE;"></div>
<div class="a" style="left:287.00px;top:552.00px;width:1004.00px;height:1.00px;background:#E4E9EE;"></div>
<div class="a" style="left:287.00px;top:583.00px;width:1004.00px;height:1.00px;background:#E4E9EE;"></div>
<div class="a" style="left:287.00px;top:614.00px;width:1004.00px;height:1.00px;background:#E4E9EE;"></div>
<div class="a" style="left:287.00px;top:645.00px;width:1004.00px;height:1.00px;background:#E4E9EE;"></div>
<div class="a" style="left:287.00px;top:676.00px;width:1004.00px;height:1.00px;background:#E4E9EE;"></div>
<div class="a" style="left:287.00px;top:707.00px;width:1004.00px;height:1.00px;background:#E4E9EE;"></div>
<div class="a" style="left:487.00px;top:190.00px;width:1.00px;height:540.00px;background:#E4E9EE;"></div>
<div class="a" style="left:755.37px;top:190.00px;width:1.00px;height:540.00px;background:#E4E9EE;"></div>
<div class="a" style="left:1023.03px;top:190.00px;width:1.00px;height:540.00px;background:#E4E9EE;"></div>
<div class="t" style="font-size:14px;line-height:20px;top:206.55px;color:#486581;letter-spacing:-0.017px;left:320.20px;">Category</div>
<svg class="a" style="left:469.20px;top:210.40px;" width="4" height="12.4" viewBox="0 0 4 12.4"><circle cx="2" cy="1.5" r="1.35" fill="#5C7FA3"/><circle cx="2" cy="6.2" r="1.35" fill="#5C7FA3"/><circle cx="2" cy="10.9" r="1.35" fill="#5C7FA3"/></svg>
<div class="t" style="font-size:14px;line-height:20px;top:198.15px;color:#486581;letter-spacing:-0.072px;left:511.32px;">Budgeted</div>
<div class="t" style="font-size:14px;line-height:20px;top:198.15px;color:#486581;letter-spacing:-0.154px;left:622.58px;">Spent</div>
<div class="t" style="font-size:14px;line-height:20px;top:198.15px;color:#486581;letter-spacing:-0.236px;left:696.75px;">Balance</div>
<svg class="a" style="left:540.30px;top:223.05px;" width="32.00" height="8.10" viewBox="-2 -2 32.00 8.10"><path d="M0 2.05 Q1.70 0.56 3.60 0.31 L6.10 0.62 L5.10 2.79 Q7.82 1.24 10.40 0.31 L13.23 0.62 L11.89 2.79 Q14.61 1.24 17.19 0.31 L19.99 0.62 L18.69 2.79 Q21.41 1.24 23.99 0.31 L26.04 0.62 L25.49 3.47 L28.00 1.40" fill="none" stroke="#486581" stroke-width="1.15" stroke-linejoin="round" stroke-linecap="round"/></svg>
<svg class="a" style="left:593.00px;top:223.05px;" width="67.00" height="8.10" viewBox="-2 -2 67.00 8.10"><path d="M0 2.05 Q1.56 0.56 3.30 0.31 L5.71 0.62 L4.67 2.79 Q7.16 1.24 9.52 0.31 L11.10 0.62 L10.89 2.79 Q13.38 1.24 15.75 0.31 L17.92 0.62 L17.12 3.47 Q19.61 1.24 21.98 0.31 L24.29 0.62 L23.34 2.79 Q25.83 1.24 28.20 0.31 L30.53 0.62 L29.57 2.79 Q32.06 1.24 34.43 0.31 L36.81 0.62 L35.80 2.79 Q38.29 1.24 40.65 0.31 L42.45 0.62 L42.02 2.79 Q44.51 1.24 46.88 0.31 L49.08 0.62 L48.25 2.79 Q50.74 1.24 53.10 0.31 L55.11 0.62 L54.47 2.79 Q56.96 1.24 59.33 0.31 L60.91 0.62 L60.70 2.79 L63.00 1.40" fill="none" stroke="#486581" stroke-width="1.15" stroke-linejoin="round" stroke-linecap="round"/></svg>
<svg class="a" style="left:697.80px;top:223.05px;" width="49.50" height="8.10" viewBox="-2 -2 49.50 8.10"><path d="M0 2.05 Q1.60 0.56 3.39 0.31 L4.83 0.62 L4.79 2.79 Q7.35 1.24 9.78 0.31 L11.10 0.62 L11.18 2.79 Q13.74 1.24 16.17 0.31 L17.94 0.62 L17.57 2.79 Q20.13 1.24 22.56 0.31 L24.55 0.62 L23.96 3.47 Q26.52 1.24 28.95 0.31 L30.83 0.62 L30.35 3.47 Q32.91 1.24 35.34 0.31 L36.69 0.62 L36.75 3.47 Q39.30 1.24 41.73 0.31 L44.21 0.62 L43.14 2.79 L45.50 1.40" fill="none" stroke="#486581" stroke-width="1.15" stroke-linejoin="round" stroke-linecap="round"/></svg>
<svg class="a" style="left:540.30px;top:256.65px;" width="32.00" height="8.10" viewBox="-2 -2 32.00 8.10"><path d="M0 2.05 Q1.70 0.56 3.60 0.31 L6.13 0.62 L5.10 2.79 Q7.82 1.24 10.40 0.31 L12.11 0.62 L11.89 2.79 Q14.61 1.24 17.19 0.31 L19.15 0.62 L18.69 2.79 Q21.41 1.24 23.99 0.31 L25.78 0.62 L25.49 2.79 L28.00 1.40" fill="none" stroke="#1B2430" stroke-width="1.1" stroke-linejoin="round" stroke-linecap="round"/></svg>
<svg class="a" style="left:627.00px;top:256.65px;" width="33.00" height="8.10" viewBox="-2 -2 33.00 8.10"><path d="M0 2.05 Q1.76 0.56 3.73 0.31 L6.50 0.62 L5.28 3.47 Q8.09 1.24 10.77 0.31 L12.54 0.62 L12.32 2.79 Q15.13 1.24 17.81 0.31 L19.90 0.62 L19.36 2.79 Q22.17 1.24 24.85 0.31 L27.52 0.62 L26.40 2.79 L29.00 1.40" fill="none" stroke="#1B2430" stroke-width="1.1" stroke-linejoin="round" stroke-linecap="round"/></svg>
<svg class="a" style="left:697.30px;top:256.65px;" width="50.00" height="8.10" viewBox="-2 -2 50.00 8.10"><path d="M0 2.05 Q1.62 0.56 3.42 0.31 L6.12 0.62 L4.85 2.79 Q7.43 1.24 9.88 0.31 L11.24 0.62 L11.31 3.47 Q13.89 1.24 16.35 0.31 L18.71 0.62 L17.77 2.79 Q20.35 1.24 22.81 0.31 L24.51 0.62 L24.23 2.79 Q26.81 1.24 29.27 0.31 L31.44 0.62 L30.69 2.79 Q33.27 1.24 35.73 0.31 L37.20 0.62 L37.15 2.79 Q39.73 1.24 42.19 0.31 L44.03 0.62 L43.61 2.79 L46.00 1.40" fill="none" stroke="#1B2430" stroke-width="1.1" stroke-linejoin="round" stroke-linecap="round"/></svg>
<svg class="a" style="left:539.90px;top:287.10px;" width="32.00" height="7.60" viewBox="-2 -2 32.00 7.60"><path d="M0 1.72 Q1.70 0.47 3.60 0.26 L6.33 0.52 L5.10 2.34 Q7.82 1.04 10.40 0.26 L12.15 0.52 L11.89 2.91 Q14.61 1.04 17.19 0.26 L19.57 0.52 L18.69 2.34 Q21.41 1.04 23.99 0.26 L25.85 0.52 L25.49 2.91 L28.00 1.17" fill="none" stroke="#E3E6EB" stroke-width="1.1" stroke-linejoin="round" stroke-linecap="round"/></svg>
<svg class="a" style="left:627.60px;top:287.10px;" width="32.00" height="7.60" viewBox="-2 -2 32.00 7.60"><path d="M0 1.72 Q1.70 0.47 3.60 0.26 L5.27 0.52 L5.10 2.34 Q7.82 1.04 10.40 0.26 L13.18 0.52 L11.89 2.91 Q14.61 1.04 17.19 0.26 L19.61 0.52 L18.69 2.34 Q21.41 1.04 23.99 0.26 L25.91 0.52 L25.49 2.34 L28.00 1.17" fill="none" stroke="#E3E6EB" stroke-width="1.1" stroke-linejoin="round" stroke-linecap="round"/></svg>
<svg class="a" style="left:704.70px;top:287.45px;" width="42.60" height="8.10" viewBox="-2 -2 42.60 8.10"><path d="M0 2.05 Q1.58 0.56 3.34 0.31 L5.66 0.62 L4.73 2.79 Q7.25 1.24 9.65 0.31 L12.27 0.62 L11.04 2.79 Q13.56 1.24 15.96 0.31 L18.55 0.62 L17.34 2.79 Q19.87 1.24 22.26 0.31 L24.17 0.62 L23.65 3.47 Q26.17 1.24 28.57 0.31 L30.75 0.62 L29.96 2.79 Q32.48 1.24 34.88 0.31 L36.25 0.62 L36.27 2.79 L38.60 1.40" fill="none" stroke="#1B2430" stroke-width="1.1" stroke-linejoin="round" stroke-linecap="round"/></svg>
<svg class="a" style="left:539.90px;top:318.10px;" width="32.00" height="7.60" viewBox="-2 -2 32.00 7.60"><path d="M0 1.72 Q1.70 0.47 3.60 0.26 L6.33 0.52 L5.10 2.34 Q7.82 1.04 10.40 0.26 L12.15 0.52 L11.89 2.91 Q14.61 1.04 17.19 0.26 L19.57 0.52 L18.69 2.34 Q21.41 1.04 23.99 0.26 L25.85 0.52 L25.49 2.91 L28.00 1.17" fill="none" stroke="#E3E6EB" stroke-width="1.1" stroke-linejoin="round" stroke-linecap="round"/></svg>
<svg class="a" style="left:627.60px;top:318.10px;" width="32.00" height="7.60" viewBox="-2 -2 32.00 7.60"><path d="M0 1.72 Q1.70 0.47 3.60 0.26 L5.27 0.52 L5.10 2.34 Q7.82 1.04 10.40 0.26 L13.18 0.52 L11.89 2.91 Q14.61 1.04 17.19 0.26 L19.61 0.52 L18.69 2.34 Q21.41 1.04 23.99 0.26 L25.91 0.52 L25.49 2.34 L28.00 1.17" fill="none" stroke="#E3E6EB" stroke-width="1.1" stroke-linejoin="round" stroke-linecap="round"/></svg>
<svg class="a" style="left:710.10px;top:318.45px;" width="37.20" height="8.10" viewBox="-2 -2 37.20 8.10"><path d="M0 2.05 Q1.62 0.56 3.44 0.31 L6.17 0.62 L4.86 2.79 Q7.46 1.24 9.92 0.31 L12.25 0.62 L11.35 3.47 Q13.94 1.24 16.41 0.31 L18.02 0.62 L17.83 3.47 Q20.43 1.24 22.89 0.31 L24.45 0.62 L24.32 2.79 Q26.91 1.24 29.37 0.31 L31.32 0.62 L30.80 2.79 L33.20 1.40" fill="none" stroke="#1B2430" stroke-width="1.1" stroke-linejoin="round" stroke-linecap="round"/></svg>
<svg class="a" style="left:539.90px;top:349.10px;" width="32.00" height="7.60" viewBox="-2 -2 32.00 7.60"><path d="M0 1.72 Q1.70 0.47 3.60 0.26 L6.33 0.52 L5.10 2.34 Q7.82 1.04 10.40 0.26 L12.15 0.52 L11.89 2.91 Q14.61 1.04 17.19 0.26 L19.57 0.52 L18.69 2.34 Q21.41 1.04 23.99 0.26 L25.85 0.52 L25.49 2.91 L28.00 1.17" fill="none" stroke="#E3E6EB" stroke-width="1.1" stroke-linejoin="round" stroke-linecap="round"/></svg>
<svg class="a" style="left:627.60px;top:349.10px;" width="32.00" height="7.60" viewBox="-2 -2 32.00 7.60"><path d="M0 1.72 Q1.70 0.47 3.60 0.26 L5.27 0.52 L5.10 2.34 Q7.82 1.04 10.40 0.26 L13.18 0.52 L11.89 2.91 Q14.61 1.04 17.19 0.26 L19.61 0.52 L18.69 2.34 Q21.41 1.04 23.99 0.26 L25.91 0.52 L25.49 2.34 L28.00 1.17" fill="none" stroke="#E3E6EB" stroke-width="1.1" stroke-linejoin="round" stroke-linecap="round"/></svg>
<svg class="a" style="left:720.30px;top:349.45px;" width="27.00" height="8.10" viewBox="-2 -2 27.00 8.10"><path d="M0 2.05 Q1.84 0.56 3.91 0.31 L6.30 0.62 L5.53 2.79 Q8.48 1.24 11.28 0.31 L13.50 0.62 L12.90 2.79 Q15.85 1.24 18.65 0.31 L21.09 0.62 L20.27 2.79 L23.00 1.40" fill="none" stroke="#1B2430" stroke-width="1.1" stroke-linejoin="round" stroke-linecap="round"/></svg>
<svg class="a" style="left:539.90px;top:380.10px;" width="32.00" height="7.60" viewBox="-2 -2 32.00 7.60"><path d="M0 1.72 Q1.70 0.47 3.60 0.26 L6.33 0.52 L5.10 2.34 Q7.82 1.04 10.40 0.26 L12.15 0.52 L11.89 2.91 Q14.61 1.04 17.19 0.26 L19.57 0.52 L18.69 2.34 Q21.41 1.04 23.99 0.26 L25.85 0.52 L25.49 2.91 L28.00 1.17" fill="none" stroke="#E3E6EB" stroke-width="1.1" stroke-linejoin="round" stroke-linecap="round"/></svg>
<svg class="a" style="left:627.60px;top:380.10px;" width="32.00" height="7.60" viewBox="-2 -2 32.00 7.60"><path d="M0 1.72 Q1.70 0.47 3.60 0.26 L5.27 0.52 L5.10 2.34 Q7.82 1.04 10.40 0.26 L13.18 0.52 L11.89 2.91 Q14.61 1.04 17.19 0.26 L19.61 0.52 L18.69 2.34 Q21.41 1.04 23.99 0.26 L25.91 0.52 L25.49 2.34 L28.00 1.17" fill="none" stroke="#E3E6EB" stroke-width="1.1" stroke-linejoin="round" stroke-linecap="round"/></svg>
<svg class="a" style="left:714.90px;top:380.10px;" width="32.00" height="7.60" viewBox="-2 -2 32.00 7.60"><path d="M0 1.72 Q1.70 0.47 3.60 0.26 L4.93 0.52 L5.10 2.34 Q7.82 1.04 10.40 0.26 L12.05 0.52 L11.89 2.34 Q14.61 1.04 17.19 0.26 L19.59 0.52 L18.69 2.34 Q21.41 1.04 23.99 0.26 L25.42 0.52 L25.49 2.34 L28.00 1.17" fill="none" stroke="#E3E6EB" stroke-width="1.1" stroke-linejoin="round" stroke-linecap="round"/></svg>
<svg class="a" style="left:539.90px;top:411.10px;" width="32.00" height="7.60" viewBox="-2 -2 32.00 7.60"><path d="M0 1.72 Q1.70 0.47 3.60 0.26 L6.33 0.52 L5.10 2.34 Q7.82 1.04 10.40 0.26 L12.15 0.52 L11.89 2.91 Q14.61 1.04 17.19 0.26 L19.57 0.52 L18.69 2.34 Q21.41 1.04 23.99 0.26 L25.85 0.52 L25.49 2.91 L28.00 1.17" fill="none" stroke="#E3E6EB" stroke-width="1.1" stroke-linejoin="round" stroke-linecap="round"/></svg>
<svg class="a" style="left:627.60px;top:411.10px;" width="32.00" height="7.60" viewBox="-2 -2 32.00 7.60"><path d="M0 1.72 Q1.70 0.47 3.60 0.26 L5.27 0.52 L5.10 2.34 Q7.82 1.04 10.40 0.26 L13.18 0.52 L11.89 2.91 Q14.61 1.04 17.19 0.26 L19.61 0.52 L18.69 2.34 Q21.41 1.04 23.99 0.26 L25.91 0.52 L25.49 2.34 L28.00 1.17" fill="none" stroke="#E3E6EB" stroke-width="1.1" stroke-linejoin="round" stroke-linecap="round"/></svg>
<svg class="a" style="left:710.10px;top:411.45px;" width="37.20" height="8.10" viewBox="-2 -2 37.20 8.10"><path d="M0 2.05 Q1.62 0.56 3.44 0.31 L5.92 0.62 L4.86 2.79 Q7.46 1.24 9.92 0.31 L11.60 0.62 L11.35 2.79 Q13.94 1.24 16.41 0.31 L18.73 0.62 L17.83 2.79 Q20.43 1.24 22.89 0.31 L24.29 0.62 L24.32 2.79 Q26.91 1.24 29.37 0.31 L31.20 0.62 L30.80 3.47 L33.20 1.40" fill="none" stroke="#1B2430" stroke-width="1.1" stroke-linejoin="round" stroke-linecap="round"/></svg>
<svg class="a" style="left:539.90px;top:442.10px;" width="32.00" height="7.60" viewBox="-2 -2 32.00 7.60"><path d="M0 1.72 Q1.70 0.47 3.60 0.26 L6.33 0.52 L5.10 2.34 Q7.82 1.04 10.40 0.26 L12.15 0.52 L11.89 2.91 Q14.61 1.04 17.19 0.26 L19.57 0.52 L18.69 2.34 Q21.41 1.04 23.99 0.26 L25.85 0.52 L25.49 2.91 L28.00 1.17" fill="none" stroke="#E3E6EB" stroke-width="1.1" stroke-linejoin="round" stroke-linecap="round"/></svg>
<svg class="a" style="left:627.60px;top:442.10px;" width="32.00" height="7.60" viewBox="-2 -2 32.00 7.60"><path d="M0 1.72 Q1.70 0.47 3.60 0.26 L5.27 0.52 L5.10 2.34 Q7.82 1.04 10.40 0.26 L13.18 0.52 L11.89 2.91 Q14.61 1.04 17.19 0.26 L19.61 0.52 L18.69 2.34 Q21.41 1.04 23.99 0.26 L25.91 0.52 L25.49 2.34 L28.00 1.17" fill="none" stroke="#E3E6EB" stroke-width="1.1" stroke-linejoin="round" stroke-linecap="round"/></svg>
<svg class="a" style="left:714.90px;top:442.10px;" width="32.00" height="7.60" viewBox="-2 -2 32.00 7.60"><path d="M0 1.72 Q1.70 0.47 3.60 0.26 L4.93 0.52 L5.10 2.34 Q7.82 1.04 10.40 0.26 L12.05 0.52 L11.89 2.34 Q14.61 1.04 17.19 0.26 L19.59 0.52 L18.69 2.34 Q21.41 1.04 23.99 0.26 L25.42 0.52 L25.49 2.34 L28.00 1.17" fill="none" stroke="#E3E6EB" stroke-width="1.1" stroke-linejoin="round" stroke-linecap="round"/></svg>
<svg class="a" style="left:539.90px;top:473.10px;" width="32.00" height="7.60" viewBox="-2 -2 32.00 7.60"><path d="M0 1.72 Q1.70 0.47 3.60 0.26 L6.33 0.52 L5.10 2.34 Q7.82 1.04 10.40 0.26 L12.15 0.52 L11.89 2.91 Q14.61 1.04 17.19 0.26 L19.57 0.52 L18.69 2.34 Q21.41 1.04 23.99 0.26 L25.85 0.52 L25.49 2.91 L28.00 1.17" fill="none" stroke="#E3E6EB" stroke-width="1.1" stroke-linejoin="round" stroke-linecap="round"/></svg>
<svg class="a" style="left:627.60px;top:473.10px;" width="32.00" height="7.60" viewBox="-2 -2 32.00 7.60"><path d="M0 1.72 Q1.70 0.47 3.60 0.26 L5.27 0.52 L5.10 2.34 Q7.82 1.04 10.40 0.26 L13.18 0.52 L11.89 2.91 Q14.61 1.04 17.19 0.26 L19.61 0.52 L18.69 2.34 Q21.41 1.04 23.99 0.26 L25.91 0.52 L25.49 2.34 L28.00 1.17" fill="none" stroke="#E3E6EB" stroke-width="1.1" stroke-linejoin="round" stroke-linecap="round"/></svg>
<svg class="a" style="left:715.30px;top:473.45px;" width="32.00" height="8.10" viewBox="-2 -2 32.00 8.10"><path d="M0 2.05 Q1.70 0.56 3.60 0.31 L6.44 0.62 L5.10 2.79 Q7.82 1.24 10.40 0.31 L11.83 0.62 L11.89 2.79 Q14.61 1.24 17.19 0.31 L19.18 0.62 L18.69 2.79 Q21.41 1.24 23.99 0.31 L25.49 0.62 L25.49 2.79 L28.00 1.40" fill="none" stroke="#1B2430" stroke-width="1.1" stroke-linejoin="round" stroke-linecap="round"/></svg>
<svg class="a" style="left:539.90px;top:504.10px;" width="32.00" height="7.60" viewBox="-2 -2 32.00 7.60"><path d="M0 1.72 Q1.70 0.47 3.60 0.26 L6.33 0.52 L5.10 2.34 Q7.82 1.04 10.40 0.26 L12.15 0.52 L11.89 2.91 Q14.61 1.04 17.19 0.26 L19.57 0.52 L18.69 2.34 Q21.41 1.04 23.99 0.26 L25.85 0.52 L25.49 2.91 L28.00 1.17" fill="none" stroke="#E3E6EB" stroke-width="1.1" stroke-linejoin="round" stroke-linecap="round"/></svg>
<svg class="a" style="left:627.60px;top:504.10px;" width="32.00" height="7.60" viewBox="-2 -2 32.00 7.60"><path d="M0 1.72 Q1.70 0.47 3.60 0.26 L5.27 0.52 L5.10 2.34 Q7.82 1.04 10.40 0.26 L13.18 0.52 L11.89 2.91 Q14.61 1.04 17.19 0.26 L19.61 0.52 L18.69 2.34 Q21.41 1.04 23.99 0.26 L25.91 0.52 L25.49 2.34 L28.00 1.17" fill="none" stroke="#E3E6EB" stroke-width="1.1" stroke-linejoin="round" stroke-linecap="round"/></svg>
<svg class="a" style="left:692.30px;top:504.45px;" width="55.00" height="8.10" viewBox="-2 -2 55.00 8.10"><path d="M0 2.05 Q1.57 0.56 3.33 0.31 L4.83 0.62 L4.71 2.79 Q7.22 1.24 9.61 0.31 L11.71 0.62 L10.99 2.79 Q13.50 1.24 15.89 0.31 L18.25 0.62 L17.27 3.47 Q19.78 1.24 22.17 0.31 L23.43 0.62 L23.55 2.79 Q26.07 1.24 28.45 0.31 L30.40 0.62 L29.83 2.79 Q32.35 1.24 34.73 0.31 L37.36 0.62 L36.11 2.79 Q38.63 1.24 41.01 0.31 L42.82 0.62 L42.40 2.79 Q44.91 1.24 47.29 0.31 L49.67 0.62 L48.68 2.79 L51.00 1.40" fill="none" stroke="#1B2430" stroke-width="1.1" stroke-linejoin="round" stroke-linecap="round"/></svg>
<svg class="a" style="left:540.30px;top:535.65px;" width="32.00" height="8.10" viewBox="-2 -2 32.00 8.10"><path d="M0 2.05 Q1.70 0.56 3.60 0.31 L6.04 0.62 L5.10 2.79 Q7.82 1.24 10.40 0.31 L12.01 0.62 L11.89 2.79 Q14.61 1.24 17.19 0.31 L19.83 0.62 L18.69 3.47 Q21.41 1.24 23.99 0.31 L25.89 0.62 L25.49 2.79 L28.00 1.40" fill="none" stroke="#1B2430" stroke-width="1.1" stroke-linejoin="round" stroke-linecap="round"/></svg>
<svg class="a" style="left:592.00px;top:535.65px;" width="68.00" height="8.10" viewBox="-2 -2 68.00 8.10"><path d="M0 2.05 Q1.58 0.56 3.35 0.31 L4.75 0.62 L4.74 3.47 Q7.27 1.24 9.68 0.31 L11.15 0.62 L11.07 2.79 Q13.60 1.24 16.00 0.31 L17.91 0.62 L17.39 3.47 Q19.92 1.24 22.32 0.31 L23.85 0.62 L23.72 2.79 Q26.25 1.24 28.65 0.31 L31.13 0.62 L30.04 2.79 Q32.57 1.24 34.97 0.31 L36.46 0.62 L36.36 3.47 Q38.89 1.24 41.30 0.31 L42.86 0.62 L42.69 3.47 Q45.22 1.24 47.62 0.31 L50.32 0.62 L49.01 3.47 Q51.54 1.24 53.94 0.31 L56.65 0.62 L55.34 2.79 Q57.87 1.24 60.27 0.31 L62.84 0.62 L61.66 3.47 L64.00 1.40" fill="none" stroke="#1B2430" stroke-width="1.1" stroke-linejoin="round" stroke-linecap="round"/></svg>
<svg class="a" style="left:679.30px;top:535.65px;" width="68.00" height="8.10" viewBox="-2 -2 68.00 8.10"><path d="M0 2.05 Q1.58 0.56 3.35 0.31 L5.08 0.62 L4.74 2.79 Q7.27 1.24 9.68 0.31 L11.32 0.62 L11.07 2.79 Q13.60 1.24 16.00 0.31 L17.72 0.62 L17.39 2.79 Q19.92 1.24 22.32 0.31 L25.00 0.62 L23.72 2.79 Q26.25 1.24 28.65 0.31 L30.52 0.62 L30.04 3.47 Q32.57 1.24 34.97 0.31 L36.70 0.62 L36.36 2.79 Q38.89 1.24 41.30 0.31 L43.00 0.62 L42.69 2.79 Q45.22 1.24 47.62 0.31 L49.46 0.62 L49.01 2.79 Q51.54 1.24 53.94 0.31 L55.83 0.62 L55.34 2.79 Q57.87 1.24 60.27 0.31 L62.13 0.62 L61.66 3.47 L64.00 1.40" fill="none" stroke="#1B2430" stroke-width="1.1" stroke-linejoin="round" stroke-linecap="round"/></svg>
<svg class="a" style="left:539.90px;top:566.10px;" width="32.00" height="7.60" viewBox="-2 -2 32.00 7.60"><path d="M0 1.72 Q1.70 0.47 3.60 0.26 L6.33 0.52 L5.10 2.34 Q7.82 1.04 10.40 0.26 L12.15 0.52 L11.89 2.91 Q14.61 1.04 17.19 0.26 L19.57 0.52 L18.69 2.34 Q21.41 1.04 23.99 0.26 L25.85 0.52 L25.49 2.91 L28.00 1.17" fill="none" stroke="#E3E6EB" stroke-width="1.1" stroke-linejoin="round" stroke-linecap="round"/></svg>
<svg class="a" style="left:627.60px;top:566.10px;" width="32.00" height="7.60" viewBox="-2 -2 32.00 7.60"><path d="M0 1.72 Q1.70 0.47 3.60 0.26 L5.27 0.52 L5.10 2.34 Q7.82 1.04 10.40 0.26 L13.18 0.52 L11.89 2.91 Q14.61 1.04 17.19 0.26 L19.61 0.52 L18.69 2.34 Q21.41 1.04 23.99 0.26 L25.91 0.52 L25.49 2.34 L28.00 1.17" fill="none" stroke="#E3E6EB" stroke-width="1.1" stroke-linejoin="round" stroke-linecap="round"/></svg>
<svg class="a" style="left:714.90px;top:566.10px;" width="32.00" height="7.60" viewBox="-2 -2 32.00 7.60"><path d="M0 1.72 Q1.70 0.47 3.60 0.26 L4.93 0.52 L5.10 2.34 Q7.82 1.04 10.40 0.26 L12.05 0.52 L11.89 2.34 Q14.61 1.04 17.19 0.26 L19.59 0.52 L18.69 2.34 Q21.41 1.04 23.99 0.26 L25.42 0.52 L25.49 2.34 L28.00 1.17" fill="none" stroke="#E3E6EB" stroke-width="1.1" stroke-linejoin="round" stroke-linecap="round"/></svg>
<svg class="a" style="left:539.90px;top:597.10px;" width="32.00" height="7.60" viewBox="-2 -2 32.00 7.60"><path d="M0 1.72 Q1.70 0.47 3.60 0.26 L6.33 0.52 L5.10 2.34 Q7.82 1.04 10.40 0.26 L12.15 0.52 L11.89 2.91 Q14.61 1.04 17.19 0.26 L19.57 0.52 L18.69 2.34 Q21.41 1.04 23.99 0.26 L25.85 0.52 L25.49 2.91 L28.00 1.17" fill="none" stroke="#E3E6EB" stroke-width="1.1" stroke-linejoin="round" stroke-linecap="round"/></svg>
<svg class="a" style="left:627.60px;top:597.10px;" width="32.00" height="7.60" viewBox="-2 -2 32.00 7.60"><path d="M0 1.72 Q1.70 0.47 3.60 0.26 L5.27 0.52 L5.10 2.34 Q7.82 1.04 10.40 0.26 L13.18 0.52 L11.89 2.91 Q14.61 1.04 17.19 0.26 L19.61 0.52 L18.69 2.34 Q21.41 1.04 23.99 0.26 L25.91 0.52 L25.49 2.34 L28.00 1.17" fill="none" stroke="#E3E6EB" stroke-width="1.1" stroke-linejoin="round" stroke-linecap="round"/></svg>
<svg class="a" style="left:714.90px;top:597.10px;" width="32.00" height="7.60" viewBox="-2 -2 32.00 7.60"><path d="M0 1.72 Q1.70 0.47 3.60 0.26 L4.93 0.52 L5.10 2.34 Q7.82 1.04 10.40 0.26 L12.05 0.52 L11.89 2.34 Q14.61 1.04 17.19 0.26 L19.59 0.52 L18.69 2.34 Q21.41 1.04 23.99 0.26 L25.42 0.52 L25.49 2.34 L28.00 1.17" fill="none" stroke="#E3E6EB" stroke-width="1.1" stroke-linejoin="round" stroke-linecap="round"/></svg>
<svg class="a" style="left:539.90px;top:628.10px;" width="32.00" height="7.60" viewBox="-2 -2 32.00 7.60"><path d="M0 1.72 Q1.70 0.47 3.60 0.26 L6.33 0.52 L5.10 2.34 Q7.82 1.04 10.40 0.26 L12.15 0.52 L11.89 2.91 Q14.61 1.04 17.19 0.26 L19.57 0.52 L18.69 2.34 Q21.41 1.04 23.99 0.26 L25.85 0.52 L25.49 2.91 L28.00 1.17" fill="none" stroke="#E3E6EB" stroke-width="1.1" stroke-linejoin="round" stroke-linecap="round"/></svg>
<svg class="a" style="left:592.00px;top:628.45px;" width="68.00" height="8.10" viewBox="-2 -2 68.00 8.10"><path d="M0 2.05 Q1.58 0.56 3.35 0.31 L4.69 0.62 L4.74 2.79 Q7.27 1.24 9.68 0.31 L12.16 0.62 L11.07 2.79 Q13.60 1.24 16.00 0.31 L17.98 0.62 L17.39 2.79 Q19.92 1.24 22.32 0.31 L24.09 0.62 L23.72 2.79 Q26.25 1.24 28.65 0.31 L30.01 0.62 L30.04 2.79 Q32.57 1.24 34.97 0.31 L37.09 0.62 L36.36 2.79 Q38.89 1.24 41.30 0.31 L43.07 0.62 L42.69 2.79 Q45.22 1.24 47.62 0.31 L49.50 0.62 L49.01 2.79 Q51.54 1.24 53.94 0.31 L56.62 0.62 L55.34 2.79 Q57.87 1.24 60.27 0.31 L61.61 0.62 L61.66 2.79 L64.00 1.40" fill="none" stroke="#1B2430" stroke-width="1.1" stroke-linejoin="round" stroke-linecap="round"/></svg>
<svg class="a" style="left:679.30px;top:628.45px;" width="68.00" height="8.10" viewBox="-2 -2 68.00 8.10"><path d="M0 2.05 Q1.58 0.56 3.35 0.31 L5.20 0.62 L4.74 2.79 Q7.27 1.24 9.68 0.31 L10.98 0.62 L11.07 2.79 Q13.60 1.24 16.00 0.31 L17.77 0.62 L17.39 2.79 Q19.92 1.24 22.32 0.31 L23.78 0.62 L23.72 2.79 Q26.25 1.24 28.65 0.31 L30.25 0.62 L30.04 2.79 Q32.57 1.24 34.97 0.31 L37.28 0.62 L36.36 2.79 Q38.89 1.24 41.30 0.31 L43.96 0.62 L42.69 2.79 Q45.22 1.24 47.62 0.31 L49.16 0.62 L49.01 2.79 Q51.54 1.24 53.94 0.31 L55.95 0.62 L55.34 2.79 Q57.87 1.24 60.27 0.31 L62.27 0.62 L61.66 3.47 L64.00 1.40" fill="none" stroke="#E0354B" stroke-width="1.1" stroke-linejoin="round" stroke-linecap="round"/></svg>
<svg class="a" style="left:539.90px;top:659.10px;" width="32.00" height="7.60" viewBox="-2 -2 32.00 7.60"><path d="M0 1.72 Q1.70 0.47 3.60 0.26 L6.33 0.52 L5.10 2.34 Q7.82 1.04 10.40 0.26 L12.15 0.52 L11.89 2.91 Q14.61 1.04 17.19 0.26 L19.57 0.52 L18.69 2.34 Q21.41 1.04 23.99 0.26 L25.85 0.52 L25.49 2.91 L28.00 1.17" fill="none" stroke="#E3E6EB" stroke-width="1.1" stroke-linejoin="round" stroke-linecap="round"/></svg>
<svg class="a" style="left:627.60px;top:659.10px;" width="32.00" height="7.60" viewBox="-2 -2 32.00 7.60"><path d="M0 1.72 Q1.70 0.47 3.60 0.26 L5.27 0.52 L5.10 2.34 Q7.82 1.04 10.40 0.26 L13.18 0.52 L11.89 2.91 Q14.61 1.04 17.19 0.26 L19.61 0.52 L18.69 2.34 Q21.41 1.04 23.99 0.26 L25.91 0.52 L25.49 2.34 L28.00 1.17" fill="none" stroke="#E3E6EB" stroke-width="1.1" stroke-linejoin="round" stroke-linecap="round"/></svg>
<svg class="a" style="left:714.90px;top:659.10px;" width="32.00" height="7.60" viewBox="-2 -2 32.00 7.60"><path d="M0 1.72 Q1.70 0.47 3.60 0.26 L4.93 0.52 L5.10 2.34 Q7.82 1.04 10.40 0.26 L12.05 0.52 L11.89 2.34 Q14.61 1.04 17.19 0.26 L19.59 0.52 L18.69 2.34 Q21.41 1.04 23.99 0.26 L25.42 0.52 L25.49 2.34 L28.00 1.17" fill="none" stroke="#E3E6EB" stroke-width="1.1" stroke-linejoin="round" stroke-linecap="round"/></svg>
<svg class="a" style="left:539.90px;top:690.10px;" width="32.00" height="7.60" viewBox="-2 -2 32.00 7.60"><path d="M0 1.72 Q1.70 0.47 3.60 0.26 L6.33 0.52 L5.10 2.34 Q7.82 1.04 10.40 0.26 L12.15 0.52 L11.89 2.91 Q14.61 1.04 17.19 0.26 L19.57 0.52 L18.69 2.34 Q21.41 1.04 23.99 0.26 L25.85 0.52 L25.49 2.91 L28.00 1.17" fill="none" stroke="#E3E6EB" stroke-width="1.1" stroke-linejoin="round" stroke-linecap="round"/></svg>
<svg class="a" style="left:627.60px;top:690.10px;" width="32.00" height="7.60" viewBox="-2 -2 32.00 7.60"><path d="M0 1.72 Q1.70 0.47 3.60 0.26 L5.27 0.52 L5.10 2.34 Q7.82 1.04 10.40 0.26 L13.18 0.52 L11.89 2.91 Q14.61 1.04 17.19 0.26 L19.61 0.52 L18.69 2.34 Q21.41 1.04 23.99 0.26 L25.91 0.52 L25.49 2.34 L28.00 1.17" fill="none" stroke="#E3E6EB" stroke-width="1.1" stroke-linejoin="round" stroke-linecap="round"/></svg>
<svg class="a" style="left:714.90px;top:690.10px;" width="32.00" height="7.60" viewBox="-2 -2 32.00 7.60"><path d="M0 1.72 Q1.70 0.47 3.60 0.26 L4.93 0.52 L5.10 2.34 Q7.82 1.04 10.40 0.26 L12.05 0.52 L11.89 2.34 Q14.61 1.04 17.19 0.26 L19.59 0.52 L18.69 2.34 Q21.41 1.04 23.99 0.26 L25.42 0.52 L25.49 2.34 L28.00 1.17" fill="none" stroke="#E3E6EB" stroke-width="1.1" stroke-linejoin="round" stroke-linecap="round"/></svg>
<div class="t" style="font-size:14px;line-height:20px;top:198.15px;color:#486581;letter-spacing:-0.072px;left:778.99px;">Budgeted</div>
<div class="t" style="font-size:14px;line-height:20px;top:198.15px;color:#486581;letter-spacing:-0.154px;left:890.25px;">Spent</div>
<div class="t" style="font-size:14px;line-height:20px;top:198.15px;color:#486581;letter-spacing:-0.236px;left:964.42px;">Balance</div>
<svg class="a" style="left:807.97px;top:223.05px;" width="32.00" height="8.10" viewBox="-2 -2 32.00 8.10"><path d="M0 2.05 Q1.70 0.56 3.60 0.31 L6.10 0.62 L5.10 2.79 Q7.82 1.24 10.40 0.31 L13.23 0.62 L11.89 2.79 Q14.61 1.24 17.19 0.31 L19.99 0.62 L18.69 2.79 Q21.41 1.24 23.99 0.31 L26.04 0.62 L25.49 3.47 L28.00 1.40" fill="none" stroke="#486581" stroke-width="1.15" stroke-linejoin="round" stroke-linecap="round"/></svg>
<svg class="a" style="left:860.67px;top:223.05px;" width="67.00" height="8.10" viewBox="-2 -2 67.00 8.10"><path d="M0 2.05 Q1.56 0.56 3.30 0.31 L5.71 0.62 L4.67 2.79 Q7.16 1.24 9.52 0.31 L11.10 0.62 L10.89 2.79 Q13.38 1.24 15.75 0.31 L17.92 0.62 L17.12 3.47 Q19.61 1.24 21.98 0.31 L24.29 0.62 L23.34 2.79 Q25.83 1.24 28.20 0.31 L30.53 0.62 L29.57 2.79 Q32.06 1.24 34.43 0.31 L36.81 0.62 L35.80 2.79 Q38.29 1.24 40.65 0.31 L42.45 0.62 L42.02 2.79 Q44.51 1.24 46.88 0.31 L49.08 0.62 L48.25 2.79 Q50.74 1.24 53.10 0.31 L55.11 0.62 L54.47 2.79 Q56.96 1.24 59.33 0.31 L60.91 0.62 L60.70 2.79 L63.00 1.40" fill="none" stroke="#486581" stroke-width="1.15" stroke-linejoin="round" stroke-linecap="round"/></svg>
<svg class="a" style="left:965.47px;top:223.05px;" width="49.50" height="8.10" viewBox="-2 -2 49.50 8.10"><path d="M0 2.05 Q1.60 0.56 3.39 0.31 L4.83 0.62 L4.79 2.79 Q7.35 1.24 9.78 0.31 L11.10 0.62 L11.18 2.79 Q13.74 1.24 16.17 0.31 L17.94 0.62 L17.57 2.79 Q20.13 1.24 22.56 0.31 L24.55 0.62 L23.96 3.47 Q26.52 1.24 28.95 0.31 L30.83 0.62 L30.35 3.47 Q32.91 1.24 35.34 0.31 L36.69 0.62 L36.75 3.47 Q39.30 1.24 41.73 0.31 L44.21 0.62 L43.14 2.79 L45.50 1.40" fill="none" stroke="#486581" stroke-width="1.15" stroke-linejoin="round" stroke-linecap="round"/></svg>
<svg class="a" style="left:807.97px;top:256.65px;" width="32.00" height="8.10" viewBox="-2 -2 32.00 8.10"><path d="M0 2.05 Q1.70 0.56 3.60 0.31 L6.13 0.62 L5.10 2.79 Q7.82 1.24 10.40 0.31 L12.11 0.62 L11.89 2.79 Q14.61 1.24 17.19 0.31 L19.15 0.62 L18.69 2.79 Q21.41 1.24 23.99 0.31 L25.78 0.62 L25.49 2.79 L28.00 1.40" fill="none" stroke="#1B2430" stroke-width="1.1" stroke-linejoin="round" stroke-linecap="round"/></svg>
<svg class="a" style="left:894.67px;top:256.65px;" width="33.00" height="8.10" viewBox="-2 -2 33.00 8.10"><path d="M0 2.05 Q1.76 0.56 3.73 0.31 L6.50 0.62 L5.28 3.47 Q8.09 1.24 10.77 0.31 L12.54 0.62 L12.32 2.79 Q15.13 1.24 17.81 0.31 L19.90 0.62 L19.36 2.79 Q22.17 1.24 24.85 0.31 L27.52 0.62 L26.40 2.79 L29.00 1.40" fill="none" stroke="#1B2430" stroke-width="1.1" stroke-linejoin="round" stroke-linecap="round"/></svg>
<svg class="a" style="left:964.97px;top:256.65px;" width="50.00" height="8.10" viewBox="-2 -2 50.00 8.10"><path d="M0 2.05 Q1.62 0.56 3.42 0.31 L6.12 0.62 L4.85 2.79 Q7.43 1.24 9.88 0.31 L11.24 0.62 L11.31 3.47 Q13.89 1.24 16.35 0.31 L18.71 0.62 L17.77 2.79 Q20.35 1.24 22.81 0.31 L24.51 0.62 L24.23 2.79 Q26.81 1.24 29.27 0.31 L31.44 0.62 L30.69 2.79 Q33.27 1.24 35.73 0.31 L37.20 0.62 L37.15 2.79 Q39.73 1.24 42.19 0.31 L44.03 0.62 L43.61 2.79 L46.00 1.40" fill="none" stroke="#1B2430" stroke-width="1.1" stroke-linejoin="round" stroke-linecap="round"/></svg>
<svg class="a" style="left:807.57px;top:287.10px;" width="32.00" height="7.60" viewBox="-2 -2 32.00 7.60"><path d="M0 1.72 Q1.70 0.47 3.60 0.26 L6.33 0.52 L5.10 2.34 Q7.82 1.04 10.40 0.26 L12.15 0.52 L11.89 2.91 Q14.61 1.04 17.19 0.26 L19.57 0.52 L18.69 2.34 Q21.41 1.04 23.99 0.26 L25.85 0.52 L25.49 2.91 L28.00 1.17" fill="none" stroke="#E3E6EB" stroke-width="1.1" stroke-linejoin="round" stroke-linecap="round"/></svg>
<svg class="a" style="left:895.27px;top:287.10px;" width="32.00" height="7.60" viewBox="-2 -2 32.00 7.60"><path d="M0 1.72 Q1.70 0.47 3.60 0.26 L5.27 0.52 L5.10 2.34 Q7.82 1.04 10.40 0.26 L13.18 0.52 L11.89 2.91 Q14.61 1.04 17.19 0.26 L19.61 0.52 L18.69 2.34 Q21.41 1.04 23.99 0.26 L25.91 0.52 L25.49 2.34 L28.00 1.17" fill="none" stroke="#E3E6EB" stroke-width="1.1" stroke-linejoin="round" stroke-linecap="round"/></svg>
<svg class="a" style="left:972.37px;top:287.45px;" width="42.60" height="8.10" viewBox="-2 -2 42.60 8.10"><path d="M0 2.05 Q1.58 0.56 3.34 0.31 L5.66 0.62 L4.73 2.79 Q7.25 1.24 9.65 0.31 L12.27 0.62 L11.04 2.79 Q13.56 1.24 15.96 0.31 L18.55 0.62 L17.34 2.79 Q19.87 1.24 22.26 0.31 L24.17 0.62 L23.65 3.47 Q26.17 1.24 28.57 0.31 L30.75 0.62 L29.96 2.79 Q32.48 1.24 34.88 0.31 L36.25 0.62 L36.27 2.79 L38.60 1.40" fill="none" stroke="#1B2430" stroke-width="1.1" stroke-linejoin="round" stroke-linecap="round"/></svg>
<svg class="a" style="left:807.57px;top:318.10px;" width="32.00" height="7.60" viewBox="-2 -2 32.00 7.60"><path d="M0 1.72 Q1.70 0.47 3.60 0.26 L6.33 0.52 L5.10 2.34 Q7.82 1.04 10.40 0.26 L12.15 0.52 L11.89 2.91 Q14.61 1.04 17.19 0.26 L19.57 0.52 L18.69 2.34 Q21.41 1.04 23.99 0.26 L25.85 0.52 L25.49 2.91 L28.00 1.17" fill="none" stroke="#E3E6EB" stroke-width="1.1" stroke-linejoin="round" stroke-linecap="round"/></svg>
<svg class="a" style="left:895.27px;top:318.10px;" width="32.00" height="7.60" viewBox="-2 -2 32.00 7.60"><path d="M0 1.72 Q1.70 0.47 3.60 0.26 L5.27 0.52 L5.10 2.34 Q7.82 1.04 10.40 0.26 L13.18 0.52 L11.89 2.91 Q14.61 1.04 17.19 0.26 L19.61 0.52 L18.69 2.34 Q21.41 1.04 23.99 0.26 L25.91 0.52 L25.49 2.34 L28.00 1.17" fill="none" stroke="#E3E6EB" stroke-width="1.1" stroke-linejoin="round" stroke-linecap="round"/></svg>
<svg class="a" style="left:977.77px;top:318.45px;" width="37.20" height="8.10" viewBox="-2 -2 37.20 8.10"><path d="M0 2.05 Q1.62 0.56 3.44 0.31 L6.17 0.62 L4.86 2.79 Q7.46 1.24 9.92 0.31 L12.25 0.62 L11.35 3.47 Q13.94 1.24 16.41 0.31 L18.02 0.62 L17.83 3.47 Q20.43 1.24 22.89 0.31 L24.45 0.62 L24.32 2.79 Q26.91 1.24 29.37 0.31 L31.32 0.62 L30.80 2.79 L33.20 1.40" fill="none" stroke="#1B2430" stroke-width="1.1" stroke-linejoin="round" stroke-linecap="round"/></svg>
<svg class="a" style="left:807.57px;top:349.10px;" width="32.00" height="7.60" viewBox="-2 -2 32.00 7.60"><path d="M0 1.72 Q1.70 0.47 3.60 0.26 L6.33 0.52 L5.10 2.34 Q7.82 1.04 10.40 0.26 L12.15 0.52 L11.89 2.91 Q14.61 1.04 17.19 0.26 L19.57 0.52 L18.69 2.34 Q21.41 1.04 23.99 0.26 L25.85 0.52 L25.49 2.91 L28.00 1.17" fill="none" stroke="#E3E6EB" stroke-width="1.1" stroke-linejoin="round" stroke-linecap="round"/></svg>
<svg class="a" style="left:895.27px;top:349.10px;" width="32.00" height="7.60" viewBox="-2 -2 32.00 7.60"><path d="M0 1.72 Q1.70 0.47 3.60 0.26 L5.27 0.52 L5.10 2.34 Q7.82 1.04 10.40 0.26 L13.18 0.52 L11.89 2.91 Q14.61 1.04 17.19 0.26 L19.61 0.52 L18.69 2.34 Q21.41 1.04 23.99 0.26 L25.91 0.52 L25.49 2.34 L28.00 1.17" fill="none" stroke="#E3E6EB" stroke-width="1.1" stroke-linejoin="round" stroke-linecap="round"/></svg>
<svg class="a" style="left:987.97px;top:349.45px;" width="27.00" height="8.10" viewBox="-2 -2 27.00 8.10"><path d="M0 2.05 Q1.84 0.56 3.91 0.31 L6.30 0.62 L5.53 2.79 Q8.48 1.24 11.28 0.31 L13.50 0.62 L12.90 2.79 Q15.85 1.24 18.65 0.31 L21.09 0.62 L20.27 2.79 L23.00 1.40" fill="none" stroke="#1B2430" stroke-width="1.1" stroke-linejoin="round" stroke-linecap="round"/></svg>
<svg class="a" style="left:807.57px;top:380.10px;" width="32.00" height="7.60" viewBox="-2 -2 32.00 7.60"><path d="M0 1.72 Q1.70 0.47 3.60 0.26 L6.33 0.52 L5.10 2.34 Q7.82 1.04 10.40 0.26 L12.15 0.52 L11.89 2.91 Q14.61 1.04 17.19 0.26 L19.57 0.52 L18.69 2.34 Q21.41 1.04 23.99 0.26 L25.85 0.52 L25.49 2.91 L28.00 1.17" fill="none" stroke="#E3E6EB" stroke-width="1.1" stroke-linejoin="round" stroke-linecap="round"/></svg>
<svg class="a" style="left:895.27px;top:380.10px;" width="32.00" height="7.60" viewBox="-2 -2 32.00 7.60"><path d="M0 1.72 Q1.70 0.47 3.60 0.26 L5.27 0.52 L5.10 2.34 Q7.82 1.04 10.40 0.26 L13.18 0.52 L11.89 2.91 Q14.61 1.04 17.19 0.26 L19.61 0.52 L18.69 2.34 Q21.41 1.04 23.99 0.26 L25.91 0.52 L25.49 2.34 L28.00 1.17" fill="none" stroke="#E3E6EB" stroke-width="1.1" stroke-linejoin="round" stroke-linecap="round"/></svg>
<svg class="a" style="left:982.57px;top:380.10px;" width="32.00" height="7.60" viewBox="-2 -2 32.00 7.60"><path d="M0 1.72 Q1.70 0.47 3.60 0.26 L4.93 0.52 L5.10 2.34 Q7.82 1.04 10.40 0.26 L12.05 0.52 L11.89 2.34 Q14.61 1.04 17.19 0.26 L19.59 0.52 L18.69 2.34 Q21.41 1.04 23.99 0.26 L25.42 0.52 L25.49 2.34 L28.00 1.17" fill="none" stroke="#E3E6EB" stroke-width="1.1" stroke-linejoin="round" stroke-linecap="round"/></svg>
<svg class="a" style="left:807.57px;top:411.10px;" width="32.00" height="7.60" viewBox="-2 -2 32.00 7.60"><path d="M0 1.72 Q1.70 0.47 3.60 0.26 L6.33 0.52 L5.10 2.34 Q7.82 1.04 10.40 0.26 L12.15 0.52 L11.89 2.91 Q14.61 1.04 17.19 0.26 L19.57 0.52 L18.69 2.34 Q21.41 1.04 23.99 0.26 L25.85 0.52 L25.49 2.91 L28.00 1.17" fill="none" stroke="#E3E6EB" stroke-width="1.1" stroke-linejoin="round" stroke-linecap="round"/></svg>
<svg class="a" style="left:895.27px;top:411.10px;" width="32.00" height="7.60" viewBox="-2 -2 32.00 7.60"><path d="M0 1.72 Q1.70 0.47 3.60 0.26 L5.27 0.52 L5.10 2.34 Q7.82 1.04 10.40 0.26 L13.18 0.52 L11.89 2.91 Q14.61 1.04 17.19 0.26 L19.61 0.52 L18.69 2.34 Q21.41 1.04 23.99 0.26 L25.91 0.52 L25.49 2.34 L28.00 1.17" fill="none" stroke="#E3E6EB" stroke-width="1.1" stroke-linejoin="round" stroke-linecap="round"/></svg>
<svg class="a" style="left:977.77px;top:411.45px;" width="37.20" height="8.10" viewBox="-2 -2 37.20 8.10"><path d="M0 2.05 Q1.62 0.56 3.44 0.31 L5.92 0.62 L4.86 2.79 Q7.46 1.24 9.92 0.31 L11.60 0.62 L11.35 2.79 Q13.94 1.24 16.41 0.31 L18.73 0.62 L17.83 2.79 Q20.43 1.24 22.89 0.31 L24.29 0.62 L24.32 2.79 Q26.91 1.24 29.37 0.31 L31.20 0.62 L30.80 3.47 L33.20 1.40" fill="none" stroke="#1B2430" stroke-width="1.1" stroke-linejoin="round" stroke-linecap="round"/></svg>
<svg class="a" style="left:807.57px;top:442.10px;" width="32.00" height="7.60" viewBox="-2 -2 32.00 7.60"><path d="M0 1.72 Q1.70 0.47 3.60 0.26 L6.33 0.52 L5.10 2.34 Q7.82 1.04 10.40 0.26 L12.15 0.52 L11.89 2.91 Q14.61 1.04 17.19 0.26 L19.57 0.52 L18.69 2.34 Q21.41 1.04 23.99 0.26 L25.85 0.52 L25.49 2.91 L28.00 1.17" fill="none" stroke="#E3E6EB" stroke-width="1.1" stroke-linejoin="round" stroke-linecap="round"/></svg>
<svg class="a" style="left:895.27px;top:442.10px;" width="32.00" height="7.60" viewBox="-2 -2 32.00 7.60"><path d="M0 1.72 Q1.70 0.47 3.60 0.26 L5.27 0.52 L5.10 2.34 Q7.82 1.04 10.40 0.26 L13.18 0.52 L11.89 2.91 Q14.61 1.04 17.19 0.26 L19.61 0.52 L18.69 2.34 Q21.41 1.04 23.99 0.26 L25.91 0.52 L25.49 2.34 L28.00 1.17" fill="none" stroke="#E3E6EB" stroke-width="1.1" stroke-linejoin="round" stroke-linecap="round"/></svg>
<svg class="a" style="left:982.57px;top:442.10px;" width="32.00" height="7.60" viewBox="-2 -2 32.00 7.60"><path d="M0 1.72 Q1.70 0.47 3.60 0.26 L4.93 0.52 L5.10 2.34 Q7.82 1.04 10.40 0.26 L12.05 0.52 L11.89 2.34 Q14.61 1.04 17.19 0.26 L19.59 0.52 L18.69 2.34 Q21.41 1.04 23.99 0.26 L25.42 0.52 L25.49 2.34 L28.00 1.17" fill="none" stroke="#E3E6EB" stroke-width="1.1" stroke-linejoin="round" stroke-linecap="round"/></svg>
<svg class="a" style="left:807.57px;top:473.10px;" width="32.00" height="7.60" viewBox="-2 -2 32.00 7.60"><path d="M0 1.72 Q1.70 0.47 3.60 0.26 L6.33 0.52 L5.10 2.34 Q7.82 1.04 10.40 0.26 L12.15 0.52 L11.89 2.91 Q14.61 1.04 17.19 0.26 L19.57 0.52 L18.69 2.34 Q21.41 1.04 23.99 0.26 L25.85 0.52 L25.49 2.91 L28.00 1.17" fill="none" stroke="#E3E6EB" stroke-width="1.1" stroke-linejoin="round" stroke-linecap="round"/></svg>
<svg class="a" style="left:895.27px;top:473.10px;" width="32.00" height="7.60" viewBox="-2 -2 32.00 7.60"><path d="M0 1.72 Q1.70 0.47 3.60 0.26 L5.27 0.52 L5.10 2.34 Q7.82 1.04 10.40 0.26 L13.18 0.52 L11.89 2.91 Q14.61 1.04 17.19 0.26 L19.61 0.52 L18.69 2.34 Q21.41 1.04 23.99 0.26 L25.91 0.52 L25.49 2.34 L28.00 1.17" fill="none" stroke="#E3E6EB" stroke-width="1.1" stroke-linejoin="round" stroke-linecap="round"/></svg>
<svg class="a" style="left:982.97px;top:473.45px;" width="32.00" height="8.10" viewBox="-2 -2 32.00 8.10"><path d="M0 2.05 Q1.70 0.56 3.60 0.31 L6.44 0.62 L5.10 2.79 Q7.82 1.24 10.40 0.31 L11.83 0.62 L11.89 2.79 Q14.61 1.24 17.19 0.31 L19.18 0.62 L18.69 2.79 Q21.41 1.24 23.99 0.31 L25.49 0.62 L25.49 2.79 L28.00 1.40" fill="none" stroke="#1B2430" stroke-width="1.1" stroke-linejoin="round" stroke-linecap="round"/></svg>
<svg class="a" style="left:807.57px;top:504.10px;" width="32.00" height="7.60" viewBox="-2 -2 32.00 7.60"><path d="M0 1.72 Q1.70 0.47 3.60 0.26 L6.33 0.52 L5.10 2.34 Q7.82 1.04 10.40 0.26 L12.15 0.52 L11.89 2.91 Q14.61 1.04 17.19 0.26 L19.57 0.52 L18.69 2.34 Q21.41 1.04 23.99 0.26 L25.85 0.52 L25.49 2.91 L28.00 1.17" fill="none" stroke="#E3E6EB" stroke-width="1.1" stroke-linejoin="round" stroke-linecap="round"/></svg>
<svg class="a" style="left:895.27px;top:504.10px;" width="32.00" height="7.60" viewBox="-2 -2 32.00 7.60"><path d="M0 1.72 Q1.70 0.47 3.60 0.26 L5.27 0.52 L5.10 2.34 Q7.82 1.04 10.40 0.26 L13.18 0.52 L11.89 2.91 Q14.61 1.04 17.19 0.26 L19.61 0.52 L18.69 2.34 Q21.41 1.04 23.99 0.26 L25.91 0.52 L25.49 2.34 L28.00 1.17" fill="none" stroke="#E3E6EB" stroke-width="1.1" stroke-linejoin="round" stroke-linecap="round"/></svg>
<svg class="a" style="left:959.97px;top:504.45px;" width="55.00" height="8.10" viewBox="-2 -2 55.00 8.10"><path d="M0 2.05 Q1.57 0.56 3.33 0.31 L4.83 0.62 L4.71 2.79 Q7.22 1.24 9.61 0.31 L11.71 0.62 L10.99 2.79 Q13.50 1.24 15.89 0.31 L18.25 0.62 L17.27 3.47 Q19.78 1.24 22.17 0.31 L23.43 0.62 L23.55 2.79 Q26.07 1.24 28.45 0.31 L30.40 0.62 L29.83 2.79 Q32.35 1.24 34.73 0.31 L37.36 0.62 L36.11 2.79 Q38.63 1.24 41.01 0.31 L42.82 0.62 L42.40 2.79 Q44.91 1.24 47.29 0.31 L49.67 0.62 L48.68 2.79 L51.00 1.40" fill="none" stroke="#1B2430" stroke-width="1.1" stroke-linejoin="round" stroke-linecap="round"/></svg>
<svg class="a" style="left:807.97px;top:535.65px;" width="32.00" height="8.10" viewBox="-2 -2 32.00 8.10"><path d="M0 2.05 Q1.70 0.56 3.60 0.31 L6.04 0.62 L5.10 2.79 Q7.82 1.24 10.40 0.31 L12.01 0.62 L11.89 2.79 Q14.61 1.24 17.19 0.31 L19.83 0.62 L18.69 3.47 Q21.41 1.24 23.99 0.31 L25.89 0.62 L25.49 2.79 L28.00 1.40" fill="none" stroke="#1B2430" stroke-width="1.1" stroke-linejoin="round" stroke-linecap="round"/></svg>
<svg class="a" style="left:859.67px;top:535.65px;" width="68.00" height="8.10" viewBox="-2 -2 68.00 8.10"><path d="M0 2.05 Q1.58 0.56 3.35 0.31 L4.75 0.62 L4.74 3.47 Q7.27 1.24 9.68 0.31 L11.15 0.62 L11.07 2.79 Q13.60 1.24 16.00 0.31 L17.91 0.62 L17.39 3.47 Q19.92 1.24 22.32 0.31 L23.85 0.62 L23.72 2.79 Q26.25 1.24 28.65 0.31 L31.13 0.62 L30.04 2.79 Q32.57 1.24 34.97 0.31 L36.46 0.62 L36.36 3.47 Q38.89 1.24 41.30 0.31 L42.86 0.62 L42.69 3.47 Q45.22 1.24 47.62 0.31 L50.32 0.62 L49.01 3.47 Q51.54 1.24 53.94 0.31 L56.65 0.62 L55.34 2.79 Q57.87 1.24 60.27 0.31 L62.84 0.62 L61.66 3.47 L64.00 1.40" fill="none" stroke="#1B2430" stroke-width="1.1" stroke-linejoin="round" stroke-linecap="round"/></svg>
<svg class="a" style="left:946.97px;top:535.65px;" width="68.00" height="8.10" viewBox="-2 -2 68.00 8.10"><path d="M0 2.05 Q1.58 0.56 3.35 0.31 L5.08 0.62 L4.74 2.79 Q7.27 1.24 9.68 0.31 L11.32 0.62 L11.07 2.79 Q13.60 1.24 16.00 0.31 L17.72 0.62 L17.39 2.79 Q19.92 1.24 22.32 0.31 L25.00 0.62 L23.72 2.79 Q26.25 1.24 28.65 0.31 L30.52 0.62 L30.04 3.47 Q32.57 1.24 34.97 0.31 L36.70 0.62 L36.36 2.79 Q38.89 1.24 41.30 0.31 L43.00 0.62 L42.69 2.79 Q45.22 1.24 47.62 0.31 L49.46 0.62 L49.01 2.79 Q51.54 1.24 53.94 0.31 L55.83 0.62 L55.34 2.79 Q57.87 1.24 60.27 0.31 L62.13 0.62 L61.66 3.47 L64.00 1.40" fill="none" stroke="#1B2430" stroke-width="1.1" stroke-linejoin="round" stroke-linecap="round"/></svg>
<svg class="a" style="left:807.57px;top:566.10px;" width="32.00" height="7.60" viewBox="-2 -2 32.00 7.60"><path d="M0 1.72 Q1.70 0.47 3.60 0.26 L6.33 0.52 L5.10 2.34 Q7.82 1.04 10.40 0.26 L12.15 0.52 L11.89 2.91 Q14.61 1.04 17.19 0.26 L19.57 0.52 L18.69 2.34 Q21.41 1.04 23.99 0.26 L25.85 0.52 L25.49 2.91 L28.00 1.17" fill="none" stroke="#E3E6EB" stroke-width="1.1" stroke-linejoin="round" stroke-linecap="round"/></svg>
<svg class="a" style="left:895.27px;top:566.10px;" width="32.00" height="7.60" viewBox="-2 -2 32.00 7.60"><path d="M0 1.72 Q1.70 0.47 3.60 0.26 L5.27 0.52 L5.10 2.34 Q7.82 1.04 10.40 0.26 L13.18 0.52 L11.89 2.91 Q14.61 1.04 17.19 0.26 L19.61 0.52 L18.69 2.34 Q21.41 1.04 23.99 0.26 L25.91 0.52 L25.49 2.34 L28.00 1.17" fill="none" stroke="#E3E6EB" stroke-width="1.1" stroke-linejoin="round" stroke-linecap="round"/></svg>
<svg class="a" style="left:982.57px;top:566.10px;" width="32.00" height="7.60" viewBox="-2 -2 32.00 7.60"><path d="M0 1.72 Q1.70 0.47 3.60 0.26 L4.93 0.52 L5.10 2.34 Q7.82 1.04 10.40 0.26 L12.05 0.52 L11.89 2.34 Q14.61 1.04 17.19 0.26 L19.59 0.52 L18.69 2.34 Q21.41 1.04 23.99 0.26 L25.42 0.52 L25.49 2.34 L28.00 1.17" fill="none" stroke="#E3E6EB" stroke-width="1.1" stroke-linejoin="round" stroke-linecap="round"/></svg>
<svg class="a" style="left:807.57px;top:597.10px;" width="32.00" height="7.60" viewBox="-2 -2 32.00 7.60"><path d="M0 1.72 Q1.70 0.47 3.60 0.26 L6.33 0.52 L5.10 2.34 Q7.82 1.04 10.40 0.26 L12.15 0.52 L11.89 2.91 Q14.61 1.04 17.19 0.26 L19.57 0.52 L18.69 2.34 Q21.41 1.04 23.99 0.26 L25.85 0.52 L25.49 2.91 L28.00 1.17" fill="none" stroke="#E3E6EB" stroke-width="1.1" stroke-linejoin="round" stroke-linecap="round"/></svg>
<svg class="a" style="left:895.27px;top:597.10px;" width="32.00" height="7.60" viewBox="-2 -2 32.00 7.60"><path d="M0 1.72 Q1.70 0.47 3.60 0.26 L5.27 0.52 L5.10 2.34 Q7.82 1.04 10.40 0.26 L13.18 0.52 L11.89 2.91 Q14.61 1.04 17.19 0.26 L19.61 0.52 L18.69 2.34 Q21.41 1.04 23.99 0.26 L25.91 0.52 L25.49 2.34 L28.00 1.17" fill="none" stroke="#E3E6EB" stroke-width="1.1" stroke-linejoin="round" stroke-linecap="round"/></svg>
<svg class="a" style="left:982.57px;top:597.10px;" width="32.00" height="7.60" viewBox="-2 -2 32.00 7.60"><path d="M0 1.72 Q1.70 0.47 3.60 0.26 L4.93 0.52 L5.10 2.34 Q7.82 1.04 10.40 0.26 L12.05 0.52 L11.89 2.34 Q14.61 1.04 17.19 0.26 L19.59 0.52 L18.69 2.34 Q21.41 1.04 23.99 0.26 L25.42 0.52 L25.49 2.34 L28.00 1.17" fill="none" stroke="#E3E6EB" stroke-width="1.1" stroke-linejoin="round" stroke-linecap="round"/></svg>
<svg class="a" style="left:807.57px;top:628.10px;" width="32.00" height="7.60" viewBox="-2 -2 32.00 7.60"><path d="M0 1.72 Q1.70 0.47 3.60 0.26 L6.33 0.52 L5.10 2.34 Q7.82 1.04 10.40 0.26 L12.15 0.52 L11.89 2.91 Q14.61 1.04 17.19 0.26 L19.57 0.52 L18.69 2.34 Q21.41 1.04 23.99 0.26 L25.85 0.52 L25.49 2.91 L28.00 1.17" fill="none" stroke="#E3E6EB" stroke-width="1.1" stroke-linejoin="round" stroke-linecap="round"/></svg>
<svg class="a" style="left:859.67px;top:628.45px;" width="68.00" height="8.10" viewBox="-2 -2 68.00 8.10"><path d="M0 2.05 Q1.58 0.56 3.35 0.31 L4.69 0.62 L4.74 2.79 Q7.27 1.24 9.68 0.31 L12.16 0.62 L11.07 2.79 Q13.60 1.24 16.00 0.31 L17.98 0.62 L17.39 2.79 Q19.92 1.24 22.32 0.31 L24.09 0.62 L23.72 2.79 Q26.25 1.24 28.65 0.31 L30.01 0.62 L30.04 2.79 Q32.57 1.24 34.97 0.31 L37.09 0.62 L36.36 2.79 Q38.89 1.24 41.30 0.31 L43.07 0.62 L42.69 2.79 Q45.22 1.24 47.62 0.31 L49.50 0.62 L49.01 2.79 Q51.54 1.24 53.94 0.31 L56.62 0.62 L55.34 2.79 Q57.87 1.24 60.27 0.31 L61.61 0.62 L61.66 2.79 L64.00 1.40" fill="none" stroke="#1B2430" stroke-width="1.1" stroke-linejoin="round" stroke-linecap="round"/></svg>
<svg class="a" style="left:946.97px;top:628.45px;" width="68.00" height="8.10" viewBox="-2 -2 68.00 8.10"><path d="M0 2.05 Q1.58 0.56 3.35 0.31 L5.20 0.62 L4.74 2.79 Q7.27 1.24 9.68 0.31 L10.98 0.62 L11.07 2.79 Q13.60 1.24 16.00 0.31 L17.77 0.62 L17.39 2.79 Q19.92 1.24 22.32 0.31 L23.78 0.62 L23.72 2.79 Q26.25 1.24 28.65 0.31 L30.25 0.62 L30.04 2.79 Q32.57 1.24 34.97 0.31 L37.28 0.62 L36.36 2.79 Q38.89 1.24 41.30 0.31 L43.96 0.62 L42.69 2.79 Q45.22 1.24 47.62 0.31 L49.16 0.62 L49.01 2.79 Q51.54 1.24 53.94 0.31 L55.95 0.62 L55.34 2.79 Q57.87 1.24 60.27 0.31 L62.27 0.62 L61.66 3.47 L64.00 1.40" fill="none" stroke="#E0354B" stroke-width="1.1" stroke-linejoin="round" stroke-linecap="round"/></svg>
<svg class="a" style="left:807.57px;top:659.10px;" width="32.00" height="7.60" viewBox="-2 -2 32.00 7.60"><path d="M0 1.72 Q1.70 0.47 3.60 0.26 L6.33 0.52 L5.10 2.34 Q7.82 1.04 10.40 0.26 L12.15 0.52 L11.89 2.91 Q14.61 1.04 17.19 0.26 L19.57 0.52 L18.69 2.34 Q21.41 1.04 23.99 0.26 L25.85 0.52 L25.49 2.91 L28.00 1.17" fill="none" stroke="#E3E6EB" stroke-width="1.1" stroke-linejoin="round" stroke-linecap="round"/></svg>
<svg class="a" style="left:895.27px;top:659.10px;" width="32.00" height="7.60" viewBox="-2 -2 32.00 7.60"><path d="M0 1.72 Q1.70 0.47 3.60 0.26 L5.27 0.52 L5.10 2.34 Q7.82 1.04 10.40 0.26 L13.18 0.52 L11.89 2.91 Q14.61 1.04 17.19 0.26 L19.61 0.52 L18.69 2.34 Q21.41 1.04 23.99 0.26 L25.91 0.52 L25.49 2.34 L28.00 1.17" fill="none" stroke="#E3E6EB" stroke-width="1.1" stroke-linejoin="round" stroke-linecap="round"/></svg>
<svg class="a" style="left:982.57px;top:659.10px;" width="32.00" height="7.60" viewBox="-2 -2 32.00 7.60"><path d="M0 1.72 Q1.70 0.47 3.60 0.26 L4.93 0.52 L5.10 2.34 Q7.82 1.04 10.40 0.26 L12.05 0.52 L11.89 2.34 Q14.61 1.04 17.19 0.26 L19.59 0.52 L18.69 2.34 Q21.41 1.04 23.99 0.26 L25.42 0.52 L25.49 2.34 L28.00 1.17" fill="none" stroke="#E3E6EB" stroke-width="1.1" stroke-linejoin="round" stroke-linecap="round"/></svg>
<svg class="a" style="left:807.57px;top:690.10px;" width="32.00" height="7.60" viewBox="-2 -2 32.00 7.60"><path d="M0 1.72 Q1.70 0.47 3.60 0.26 L6.33 0.52 L5.10 2.34 Q7.82 1.04 10.40 0.26 L12.15 0.52 L11.89 2.91 Q14.61 1.04 17.19 0.26 L19.57 0.52 L18.69 2.34 Q21.41 1.04 23.99 0.26 L25.85 0.52 L25.49 2.91 L28.00 1.17" fill="none" stroke="#E3E6EB" stroke-width="1.1" stroke-linejoin="round" stroke-linecap="round"/></svg>
<svg class="a" style="left:895.27px;top:690.10px;" width="32.00" height="7.60" viewBox="-2 -2 32.00 7.60"><path d="M0 1.72 Q1.70 0.47 3.60 0.26 L5.27 0.52 L5.10 2.34 Q7.82 1.04 10.40 0.26 L13.18 0.52 L11.89 2.91 Q14.61 1.04 17.19 0.26 L19.61 0.52 L18.69 2.34 Q21.41 1.04 23.99 0.26 L25.91 0.52 L25.49 2.34 L28.00 1.17" fill="none" stroke="#E3E6EB" stroke-width="1.1" stroke-linejoin="round" stroke-linecap="round"/></svg>
<svg class="a" style="left:982.57px;top:690.10px;" width="32.00" height="7.60" viewBox="-2 -2 32.00 7.60"><path d="M0 1.72 Q1.70 0.47 3.60 0.26 L4.93 0.52 L5.10 2.34 Q7.82 1.04 10.40 0.26 L12.05 0.52 L11.89 2.34 Q14.61 1.04 17.19 0.26 L19.59 0.52 L18.69 2.34 Q21.41 1.04 23.99 0.26 L25.42 0.52 L25.49 2.34 L28.00 1.17" fill="none" stroke="#E3E6EB" stroke-width="1.1" stroke-linejoin="round" stroke-linecap="round"/></svg>
<div class="t" style="font-size:14px;line-height:20px;top:198.15px;color:#486581;letter-spacing:-0.072px;left:1046.66px;">Budgeted</div>
<div class="t" style="font-size:14px;line-height:20px;top:198.15px;color:#486581;letter-spacing:-0.154px;left:1157.91px;">Spent</div>
<div class="t" style="font-size:14px;line-height:20px;top:198.15px;color:#486581;letter-spacing:-0.236px;left:1232.09px;">Balance</div>
<svg class="a" style="left:1075.63px;top:223.05px;" width="32.00" height="8.10" viewBox="-2 -2 32.00 8.10"><path d="M0 2.05 Q1.70 0.56 3.60 0.31 L6.10 0.62 L5.10 2.79 Q7.82 1.24 10.40 0.31 L13.23 0.62 L11.89 2.79 Q14.61 1.24 17.19 0.31 L19.99 0.62 L18.69 2.79 Q21.41 1.24 23.99 0.31 L26.04 0.62 L25.49 3.47 L28.00 1.40" fill="none" stroke="#486581" stroke-width="1.15" stroke-linejoin="round" stroke-linecap="round"/></svg>
<svg class="a" style="left:1128.33px;top:223.05px;" width="67.00" height="8.10" viewBox="-2 -2 67.00 8.10"><path d="M0 2.05 Q1.56 0.56 3.30 0.31 L5.71 0.62 L4.67 2.79 Q7.16 1.24 9.52 0.31 L11.10 0.62 L10.89 2.79 Q13.38 1.24 15.75 0.31 L17.92 0.62 L17.12 3.47 Q19.61 1.24 21.98 0.31 L24.29 0.62 L23.34 2.79 Q25.83 1.24 28.20 0.31 L30.53 0.62 L29.57 2.79 Q32.06 1.24 34.43 0.31 L36.81 0.62 L35.80 2.79 Q38.29 1.24 40.65 0.31 L42.45 0.62 L42.02 2.79 Q44.51 1.24 46.88 0.31 L49.08 0.62 L48.25 2.79 Q50.74 1.24 53.10 0.31 L55.11 0.62 L54.47 2.79 Q56.96 1.24 59.33 0.31 L60.91 0.62 L60.70 2.79 L63.00 1.40" fill="none" stroke="#486581" stroke-width="1.15" stroke-linejoin="round" stroke-linecap="round"/></svg>
<svg class="a" style="left:1233.13px;top:223.05px;" width="49.50" height="8.10" viewBox="-2 -2 49.50 8.10"><path d="M0 2.05 Q1.60 0.56 3.39 0.31 L4.83 0.62 L4.79 2.79 Q7.35 1.24 9.78 0.31 L11.10 0.62 L11.18 2.79 Q13.74 1.24 16.17 0.31 L17.94 0.62 L17.57 2.79 Q20.13 1.24 22.56 0.31 L24.55 0.62 L23.96 3.47 Q26.52 1.24 28.95 0.31 L30.83 0.62 L30.35 3.47 Q32.91 1.24 35.34 0.31 L36.69 0.62 L36.75 3.47 Q39.30 1.24 41.73 0.31 L44.21 0.62 L43.14 2.79 L45.50 1.40" fill="none" stroke="#486581" stroke-width="1.15" stroke-linejoin="round" stroke-linecap="round"/></svg>
<svg class="a" style="left:1075.63px;top:256.65px;" width="32.00" height="8.10" viewBox="-2 -2 32.00 8.10"><path d="M0 2.05 Q1.70 0.56 3.60 0.31 L6.13 0.62 L5.10 2.79 Q7.82 1.24 10.40 0.31 L12.11 0.62 L11.89 2.79 Q14.61 1.24 17.19 0.31 L19.15 0.62 L18.69 2.79 Q21.41 1.24 23.99 0.31 L25.78 0.62 L25.49 2.79 L28.00 1.40" fill="none" stroke="#1B2430" stroke-width="1.1" stroke-linejoin="round" stroke-linecap="round"/></svg>
<svg class="a" style="left:1162.33px;top:256.65px;" width="33.00" height="8.10" viewBox="-2 -2 33.00 8.10"><path d="M0 2.05 Q1.76 0.56 3.73 0.31 L6.50 0.62 L5.28 3.47 Q8.09 1.24 10.77 0.31 L12.54 0.62 L12.32 2.79 Q15.13 1.24 17.81 0.31 L19.90 0.62 L19.36 2.79 Q22.17 1.24 24.85 0.31 L27.52 0.62 L26.40 2.79 L29.00 1.40" fill="none" stroke="#1B2430" stroke-width="1.1" stroke-linejoin="round" stroke-linecap="round"/></svg>
<svg class="a" style="left:1232.63px;top:256.65px;" width="50.00" height="8.10" viewBox="-2 -2 50.00 8.10"><path d="M0 2.05 Q1.62 0.56 3.42 0.31 L6.12 0.62 L4.85 2.79 Q7.43 1.24 9.88 0.31 L11.24 0.62 L11.31 3.47 Q13.89 1.24 16.35 0.31 L18.71 0.62 L17.77 2.79 Q20.35 1.24 22.81 0.31 L24.51 0.62 L24.23 2.79 Q26.81 1.24 29.27 0.31 L31.44 0.62 L30.69 2.79 Q33.27 1.24 35.73 0.31 L37.20 0.62 L37.15 2.79 Q39.73 1.24 42.19 0.31 L44.03 0.62 L43.61 2.79 L46.00 1.40" fill="none" stroke="#1B2430" stroke-width="1.1" stroke-linejoin="round" stroke-linecap="round"/></svg>
<svg class="a" style="left:1075.23px;top:287.10px;" width="32.00" height="7.60" viewBox="-2 -2 32.00 7.60"><path d="M0 1.72 Q1.70 0.47 3.60 0.26 L6.33 0.52 L5.10 2.34 Q7.82 1.04 10.40 0.26 L12.15 0.52 L11.89 2.91 Q14.61 1.04 17.19 0.26 L19.57 0.52 L18.69 2.34 Q21.41 1.04 23.99 0.26 L25.85 0.52 L25.49 2.91 L28.00 1.17" fill="none" stroke="#E3E6EB" stroke-width="1.1" stroke-linejoin="round" stroke-linecap="round"/></svg>
<svg class="a" style="left:1162.93px;top:287.10px;" width="32.00" height="7.60" viewBox="-2 -2 32.00 7.60"><path d="M0 1.72 Q1.70 0.47 3.60 0.26 L5.27 0.52 L5.10 2.34 Q7.82 1.04 10.40 0.26 L13.18 0.52 L11.89 2.91 Q14.61 1.04 17.19 0.26 L19.61 0.52 L18.69 2.34 Q21.41 1.04 23.99 0.26 L25.91 0.52 L25.49 2.34 L28.00 1.17" fill="none" stroke="#E3E6EB" stroke-width="1.1" stroke-linejoin="round" stroke-linecap="round"/></svg>
<svg class="a" style="left:1240.03px;top:287.45px;" width="42.60" height="8.10" viewBox="-2 -2 42.60 8.10"><path d="M0 2.05 Q1.58 0.56 3.34 0.31 L5.66 0.62 L4.73 2.79 Q7.25 1.24 9.65 0.31 L12.27 0.62 L11.04 2.79 Q13.56 1.24 15.96 0.31 L18.55 0.62 L17.34 2.79 Q19.87 1.24 22.26 0.31 L24.17 0.62 L23.65 3.47 Q26.17 1.24 28.57 0.31 L30.75 0.62 L29.96 2.79 Q32.48 1.24 34.88 0.31 L36.25 0.62 L36.27 2.79 L38.60 1.40" fill="none" stroke="#1B2430" stroke-width="1.1" stroke-linejoin="round" stroke-linecap="round"/></svg>
<svg class="a" style="left:1075.23px;top:318.10px;" width="32.00" height="7.60" viewBox="-2 -2 32.00 7.60"><path d="M0 1.72 Q1.70 0.47 3.60 0.26 L6.33 0.52 L5.10 2.34 Q7.82 1.04 10.40 0.26 L12.15 0.52 L11.89 2.91 Q14.61 1.04 17.19 0.26 L19.57 0.52 L18.69 2.34 Q21.41 1.04 23.99 0.26 L25.85 0.52 L25.49 2.91 L28.00 1.17" fill="none" stroke="#E3E6EB" stroke-width="1.1" stroke-linejoin="round" stroke-linecap="round"/></svg>
<svg class="a" style="left:1162.93px;top:318.10px;" width="32.00" height="7.60" viewBox="-2 -2 32.00 7.60"><path d="M0 1.72 Q1.70 0.47 3.60 0.26 L5.27 0.52 L5.10 2.34 Q7.82 1.04 10.40 0.26 L13.18 0.52 L11.89 2.91 Q14.61 1.04 17.19 0.26 L19.61 0.52 L18.69 2.34 Q21.41 1.04 23.99 0.26 L25.91 0.52 L25.49 2.34 L28.00 1.17" fill="none" stroke="#E3E6EB" stroke-width="1.1" stroke-linejoin="round" stroke-linecap="round"/></svg>
<svg class="a" style="left:1245.43px;top:318.45px;" width="37.20" height="8.10" viewBox="-2 -2 37.20 8.10"><path d="M0 2.05 Q1.62 0.56 3.44 0.31 L6.17 0.62 L4.86 2.79 Q7.46 1.24 9.92 0.31 L12.25 0.62 L11.35 3.47 Q13.94 1.24 16.41 0.31 L18.02 0.62 L17.83 3.47 Q20.43 1.24 22.89 0.31 L24.45 0.62 L24.32 2.79 Q26.91 1.24 29.37 0.31 L31.32 0.62 L30.80 2.79 L33.20 1.40" fill="none" stroke="#1B2430" stroke-width="1.1" stroke-linejoin="round" stroke-linecap="round"/></svg>
<svg class="a" style="left:1075.23px;top:349.10px;" width="32.00" height="7.60" viewBox="-2 -2 32.00 7.60"><path d="M0 1.72 Q1.70 0.47 3.60 0.26 L6.33 0.52 L5.10 2.34 Q7.82 1.04 10.40 0.26 L12.15 0.52 L11.89 2.91 Q14.61 1.04 17.19 0.26 L19.57 0.52 L18.69 2.34 Q21.41 1.04 23.99 0.26 L25.85 0.52 L25.49 2.91 L28.00 1.17" fill="none" stroke="#E3E6EB" stroke-width="1.1" stroke-linejoin="round" stroke-linecap="round"/></svg>
<svg class="a" style="left:1162.93px;top:349.10px;" width="32.00" height="7.60" viewBox="-2 -2 32.00 7.60"><path d="M0 1.72 Q1.70 0.47 3.60 0.26 L5.27 0.52 L5.10 2.34 Q7.82 1.04 10.40 0.26 L13.18 0.52 L11.89 2.91 Q14.61 1.04 17.19 0.26 L19.61 0.52 L18.69 2.34 Q21.41 1.04 23.99 0.26 L25.91 0.52 L25.49 2.34 L28.00 1.17" fill="none" stroke="#E3E6EB" stroke-width="1.1" stroke-linejoin="round" stroke-linecap="round"/></svg>
<svg class="a" style="left:1255.63px;top:349.45px;" width="27.00" height="8.10" viewBox="-2 -2 27.00 8.10"><path d="M0 2.05 Q1.84 0.56 3.91 0.31 L6.30 0.62 L5.53 2.79 Q8.48 1.24 11.28 0.31 L13.50 0.62 L12.90 2.79 Q15.85 1.24 18.65 0.31 L21.09 0.62 L20.27 2.79 L23.00 1.40" fill="none" stroke="#1B2430" stroke-width="1.1" stroke-linejoin="round" stroke-linecap="round"/></svg>
<svg class="a" style="left:1075.23px;top:380.10px;" width="32.00" height="7.60" viewBox="-2 -2 32.00 7.60"><path d="M0 1.72 Q1.70 0.47 3.60 0.26 L6.33 0.52 L5.10 2.34 Q7.82 1.04 10.40 0.26 L12.15 0.52 L11.89 2.91 Q14.61 1.04 17.19 0.26 L19.57 0.52 L18.69 2.34 Q21.41 1.04 23.99 0.26 L25.85 0.52 L25.49 2.91 L28.00 1.17" fill="none" stroke="#E3E6EB" stroke-width="1.1" stroke-linejoin="round" stroke-linecap="round"/></svg>
<svg class="a" style="left:1162.93px;top:380.10px;" width="32.00" height="7.60" viewBox="-2 -2 32.00 7.60"><path d="M0 1.72 Q1.70 0.47 3.60 0.26 L5.27 0.52 L5.10 2.34 Q7.82 1.04 10.40 0.26 L13.18 0.52 L11.89 2.91 Q14.61 1.04 17.19 0.26 L19.61 0.52 L18.69 2.34 Q21.41 1.04 23.99 0.26 L25.91 0.52 L25.49 2.34 L28.00 1.17" fill="none" stroke="#E3E6EB" stroke-width="1.1" stroke-linejoin="round" stroke-linecap="round"/></svg>
<svg class="a" style="left:1250.23px;top:380.10px;" width="32.00" height="7.60" viewBox="-2 -2 32.00 7.60"><path d="M0 1.72 Q1.70 0.47 3.60 0.26 L4.93 0.52 L5.10 2.34 Q7.82 1.04 10.40 0.26 L12.05 0.52 L11.89 2.34 Q14.61 1.04 17.19 0.26 L19.59 0.52 L18.69 2.34 Q21.41 1.04 23.99 0.26 L25.42 0.52 L25.49 2.34 L28.00 1.17" fill="none" stroke="#E3E6EB" stroke-width="1.1" stroke-linejoin="round" stroke-linecap="round"/></svg>
<svg class="a" style="left:1075.23px;top:411.10px;" width="32.00" height="7.60" viewBox="-2 -2 32.00 7.60"><path d="M0 1.72 Q1.70 0.47 3.60 0.26 L6.33 0.52 L5.10 2.34 Q7.82 1.04 10.40 0.26 L12.15 0.52 L11.89 2.91 Q14.61 1.04 17.19 0.26 L19.57 0.52 L18.69 2.34 Q21.41 1.04 23.99 0.26 L25.85 0.52 L25.49 2.91 L28.00 1.17" fill="none" stroke="#E3E6EB" stroke-width="1.1" stroke-linejoin="round" stroke-linecap="round"/></svg>
<svg class="a" style="left:1162.93px;top:411.10px;" width="32.00" height="7.60" viewBox="-2 -2 32.00 7.60"><path d="M0 1.72 Q1.70 0.47 3.60 0.26 L5.27 0.52 L5.10 2.34 Q7.82 1.04 10.40 0.26 L13.18 0.52 L11.89 2.91 Q14.61 1.04 17.19 0.26 L19.61 0.52 L18.69 2.34 Q21.41 1.04 23.99 0.26 L25.91 0.52 L25.49 2.34 L28.00 1.17" fill="none" stroke="#E3E6EB" stroke-width="1.1" stroke-linejoin="round" stroke-linecap="round"/></svg>
<svg class="a" style="left:1245.43px;top:411.45px;" width="37.20" height="8.10" viewBox="-2 -2 37.20 8.10"><path d="M0 2.05 Q1.62 0.56 3.44 0.31 L5.92 0.62 L4.86 2.79 Q7.46 1.24 9.92 0.31 L11.60 0.62 L11.35 2.79 Q13.94 1.24 16.41 0.31 L18.73 0.62 L17.83 2.79 Q20.43 1.24 22.89 0.31 L24.29 0.62 L24.32 2.79 Q26.91 1.24 29.37 0.31 L31.20 0.62 L30.80 3.47 L33.20 1.40" fill="none" stroke="#1B2430" stroke-width="1.1" stroke-linejoin="round" stroke-linecap="round"/></svg>
<svg class="a" style="left:1075.23px;top:442.10px;" width="32.00" height="7.60" viewBox="-2 -2 32.00 7.60"><path d="M0 1.72 Q1.70 0.47 3.60 0.26 L6.33 0.52 L5.10 2.34 Q7.82 1.04 10.40 0.26 L12.15 0.52 L11.89 2.91 Q14.61 1.04 17.19 0.26 L19.57 0.52 L18.69 2.34 Q21.41 1.04 23.99 0.26 L25.85 0.52 L25.49 2.91 L28.00 1.17" fill="none" stroke="#E3E6EB" stroke-width="1.1" stroke-linejoin="round" stroke-linecap="round"/></svg>
<svg class="a" style="left:1162.93px;top:442.10px;" width="32.00" height="7.60" viewBox="-2 -2 32.00 7.60"><path d="M0 1.72 Q1.70 0.47 3.60 0.26 L5.27 0.52 L5.10 2.34 Q7.82 1.04 10.40 0.26 L13.18 0.52 L11.89 2.91 Q14.61 1.04 17.19 0.26 L19.61 0.52 L18.69 2.34 Q21.41 1.04 23.99 0.26 L25.91 0.52 L25.49 2.34 L28.00 1.17" fill="none" stroke="#E3E6EB" stroke-width="1.1" stroke-linejoin="round" stroke-linecap="round"/></svg>
<svg class="a" style="left:1250.23px;top:442.10px;" width="32.00" height="7.60" viewBox="-2 -2 32.00 7.60"><path d="M0 1.72 Q1.70 0.47 3.60 0.26 L4.93 0.52 L5.10 2.34 Q7.82 1.04 10.40 0.26 L12.05 0.52 L11.89 2.34 Q14.61 1.04 17.19 0.26 L19.59 0.52 L18.69 2.34 Q21.41 1.04 23.99 0.26 L25.42 0.52 L25.49 2.34 L28.00 1.17" fill="none" stroke="#E3E6EB" stroke-width="1.1" stroke-linejoin="round" stroke-linecap="round"/></svg>
<svg class="a" style="left:1075.23px;top:473.10px;" width="32.00" height="7.60" viewBox="-2 -2 32.00 7.60"><path d="M0 1.72 Q1.70 0.47 3.60 0.26 L6.33 0.52 L5.10 2.34 Q7.82 1.04 10.40 0.26 L12.15 0.52 L11.89 2.91 Q14.61 1.04 17.19 0.26 L19.57 0.52 L18.69 2.34 Q21.41 1.04 23.99 0.26 L25.85 0.52 L25.49 2.91 L28.00 1.17" fill="none" stroke="#E3E6EB" stroke-width="1.1" stroke-linejoin="round" stroke-linecap="round"/></svg>
<svg class="a" style="left:1162.93px;top:473.10px;" width="32.00" height="7.60" viewBox="-2 -2 32.00 7.60"><path d="M0 1.72 Q1.70 0.47 3.60 0.26 L5.27 0.52 L5.10 2.34 Q7.82 1.04 10.40 0.26 L13.18 0.52 L11.89 2.91 Q14.61 1.04 17.19 0.26 L19.61 0.52 L18.69 2.34 Q21.41 1.04 23.99 0.26 L25.91 0.52 L25.49 2.34 L28.00 1.17" fill="none" stroke="#E3E6EB" stroke-width="1.1" stroke-linejoin="round" stroke-linecap="round"/></svg>
<svg class="a" style="left:1250.63px;top:473.45px;" width="32.00" height="8.10" viewBox="-2 -2 32.00 8.10"><path d="M0 2.05 Q1.70 0.56 3.60 0.31 L6.44 0.62 L5.10 2.79 Q7.82 1.24 10.40 0.31 L11.83 0.62 L11.89 2.79 Q14.61 1.24 17.19 0.31 L19.18 0.62 L18.69 2.79 Q21.41 1.24 23.99 0.31 L25.49 0.62 L25.49 2.79 L28.00 1.40" fill="none" stroke="#1B2430" stroke-width="1.1" stroke-linejoin="round" stroke-linecap="round"/></svg>
<svg class="a" style="left:1075.23px;top:504.10px;" width="32.00" height="7.60" viewBox="-2 -2 32.00 7.60"><path d="M0 1.72 Q1.70 0.47 3.60 0.26 L6.33 0.52 L5.10 2.34 Q7.82 1.04 10.40 0.26 L12.15 0.52 L11.89 2.91 Q14.61 1.04 17.19 0.26 L19.57 0.52 L18.69 2.34 Q21.41 1.04 23.99 0.26 L25.85 0.52 L25.49 2.91 L28.00 1.17" fill="none" stroke="#E3E6EB" stroke-width="1.1" stroke-linejoin="round" stroke-linecap="round"/></svg>
<svg class="a" style="left:1162.93px;top:504.10px;" width="32.00" height="7.60" viewBox="-2 -2 32.00 7.60"><path d="M0 1.72 Q1.70 0.47 3.60 0.26 L5.27 0.52 L5.10 2.34 Q7.82 1.04 10.40 0.26 L13.18 0.52 L11.89 2.91 Q14.61 1.04 17.19 0.26 L19.61 0.52 L18.69 2.34 Q21.41 1.04 23.99 0.26 L25.91 0.52 L25.49 2.34 L28.00 1.17" fill="none" stroke="#E3E6EB" stroke-width="1.1" stroke-linejoin="round" stroke-linecap="round"/></svg>
<svg class="a" style="left:1227.63px;top:504.45px;" width="55.00" height="8.10" viewBox="-2 -2 55.00 8.10"><path d="M0 2.05 Q1.57 0.56 3.33 0.31 L4.83 0.62 L4.71 2.79 Q7.22 1.24 9.61 0.31 L11.71 0.62 L10.99 2.79 Q13.50 1.24 15.89 0.31 L18.25 0.62 L17.27 3.47 Q19.78 1.24 22.17 0.31 L23.43 0.62 L23.55 2.79 Q26.07 1.24 28.45 0.31 L30.40 0.62 L29.83 2.79 Q32.35 1.24 34.73 0.31 L37.36 0.62 L36.11 2.79 Q38.63 1.24 41.01 0.31 L42.82 0.62 L42.40 2.79 Q44.91 1.24 47.29 0.31 L49.67 0.62 L48.68 2.79 L51.00 1.40" fill="none" stroke="#1B2430" stroke-width="1.1" stroke-linejoin="round" stroke-linecap="round"/></svg>
<svg class="a" style="left:1075.63px;top:535.65px;" width="32.00" height="8.10" viewBox="-2 -2 32.00 8.10"><path d="M0 2.05 Q1.70 0.56 3.60 0.31 L6.04 0.62 L5.10 2.79 Q7.82 1.24 10.40 0.31 L12.01 0.62 L11.89 2.79 Q14.61 1.24 17.19 0.31 L19.83 0.62 L18.69 3.47 Q21.41 1.24 23.99 0.31 L25.89 0.62 L25.49 2.79 L28.00 1.40" fill="none" stroke="#1B2430" stroke-width="1.1" stroke-linejoin="round" stroke-linecap="round"/></svg>
<svg class="a" style="left:1127.33px;top:535.65px;" width="68.00" height="8.10" viewBox="-2 -2 68.00 8.10"><path d="M0 2.05 Q1.58 0.56 3.35 0.31 L4.75 0.62 L4.74 3.47 Q7.27 1.24 9.68 0.31 L11.15 0.62 L11.07 2.79 Q13.60 1.24 16.00 0.31 L17.91 0.62 L17.39 3.47 Q19.92 1.24 22.32 0.31 L23.85 0.62 L23.72 2.79 Q26.25 1.24 28.65 0.31 L31.13 0.62 L30.04 2.79 Q32.57 1.24 34.97 0.31 L36.46 0.62 L36.36 3.47 Q38.89 1.24 41.30 0.31 L42.86 0.62 L42.69 3.47 Q45.22 1.24 47.62 0.31 L50.32 0.62 L49.01 3.47 Q51.54 1.24 53.94 0.31 L56.65 0.62 L55.34 2.79 Q57.87 1.24 60.27 0.31 L62.84 0.62 L61.66 3.47 L64.00 1.40" fill="none" stroke="#1B2430" stroke-width="1.1" stroke-linejoin="round" stroke-linecap="round"/></svg>
<svg class="a" style="left:1214.63px;top:535.65px;" width="68.00" height="8.10" viewBox="-2 -2 68.00 8.10"><path d="M0 2.05 Q1.58 0.56 3.35 0.31 L5.08 0.62 L4.74 2.79 Q7.27 1.24 9.68 0.31 L11.32 0.62 L11.07 2.79 Q13.60 1.24 16.00 0.31 L17.72 0.62 L17.39 2.79 Q19.92 1.24 22.32 0.31 L25.00 0.62 L23.72 2.79 Q26.25 1.24 28.65 0.31 L30.52 0.62 L30.04 3.47 Q32.57 1.24 34.97 0.31 L36.70 0.62 L36.36 2.79 Q38.89 1.24 41.30 0.31 L43.00 0.62 L42.69 2.79 Q45.22 1.24 47.62 0.31 L49.46 0.62 L49.01 2.79 Q51.54 1.24 53.94 0.31 L55.83 0.62 L55.34 2.79 Q57.87 1.24 60.27 0.31 L62.13 0.62 L61.66 3.47 L64.00 1.40" fill="none" stroke="#1B2430" stroke-width="1.1" stroke-linejoin="round" stroke-linecap="round"/></svg>
<svg class="a" style="left:1075.23px;top:566.10px;" width="32.00" height="7.60" viewBox="-2 -2 32.00 7.60"><path d="M0 1.72 Q1.70 0.47 3.60 0.26 L6.33 0.52 L5.10 2.34 Q7.82 1.04 10.40 0.26 L12.15 0.52 L11.89 2.91 Q14.61 1.04 17.19 0.26 L19.57 0.52 L18.69 2.34 Q21.41 1.04 23.99 0.26 L25.85 0.52 L25.49 2.91 L28.00 1.17" fill="none" stroke="#E3E6EB" stroke-width="1.1" stroke-linejoin="round" stroke-linecap="round"/></svg>
<svg class="a" style="left:1162.93px;top:566.10px;" width="32.00" height="7.60" viewBox="-2 -2 32.00 7.60"><path d="M0 1.72 Q1.70 0.47 3.60 0.26 L5.27 0.52 L5.10 2.34 Q7.82 1.04 10.40 0.26 L13.18 0.52 L11.89 2.91 Q14.61 1.04 17.19 0.26 L19.61 0.52 L18.69 2.34 Q21.41 1.04 23.99 0.26 L25.91 0.52 L25.49 2.34 L28.00 1.17" fill="none" stroke="#E3E6EB" stroke-width="1.1" stroke-linejoin="round" stroke-linecap="round"/></svg>
<svg class="a" style="left:1250.23px;top:566.10px;" width="32.00" height="7.60" viewBox="-2 -2 32.00 7.60"><path d="M0 1.72 Q1.70 0.47 3.60 0.26 L4.93 0.52 L5.10 2.34 Q7.82 1.04 10.40 0.26 L12.05 0.52 L11.89 2.34 Q14.61 1.04 17.19 0.26 L19.59 0.52 L18.69 2.34 Q21.41 1.04 23.99 0.26 L25.42 0.52 L25.49 2.34 L28.00 1.17" fill="none" stroke="#E3E6EB" stroke-width="1.1" stroke-linejoin="round" stroke-linecap="round"/></svg>
<svg class="a" style="left:1075.23px;top:597.10px;" width="32.00" height="7.60" viewBox="-2 -2 32.00 7.60"><path d="M0 1.72 Q1.70 0.47 3.60 0.26 L6.33 0.52 L5.10 2.34 Q7.82 1.04 10.40 0.26 L12.15 0.52 L11.89 2.91 Q14.61 1.04 17.19 0.26 L19.57 0.52 L18.69 2.34 Q21.41 1.04 23.99 0.26 L25.85 0.52 L25.49 2.91 L28.00 1.17" fill="none" stroke="#E3E6EB" stroke-width="1.1" stroke-linejoin="round" stroke-linecap="round"/></svg>
<svg class="a" style="left:1162.93px;top:597.10px;" width="32.00" height="7.60" viewBox="-2 -2 32.00 7.60"><path d="M0 1.72 Q1.70 0.47 3.60 0.26 L5.27 0.52 L5.10 2.34 Q7.82 1.04 10.40 0.26 L13.18 0.52 L11.89 2.91 Q14.61 1.04 17.19 0.26 L19.61 0.52 L18.69 2.34 Q21.41 1.04 23.99 0.26 L25.91 0.52 L25.49 2.34 L28.00 1.17" fill="none" stroke="#E3E6EB" stroke-width="1.1" stroke-linejoin="round" stroke-linecap="round"/></svg>
<svg class="a" style="left:1250.23px;top:597.10px;" width="32.00" height="7.60" viewBox="-2 -2 32.00 7.60"><path d="M0 1.72 Q1.70 0.47 3.60 0.26 L4.93 0.52 L5.10 2.34 Q7.82 1.04 10.40 0.26 L12.05 0.52 L11.89 2.34 Q14.61 1.04 17.19 0.26 L19.59 0.52 L18.69 2.34 Q21.41 1.04 23.99 0.26 L25.42 0.52 L25.49 2.34 L28.00 1.17" fill="none" stroke="#E3E6EB" stroke-width="1.1" stroke-linejoin="round" stroke-linecap="round"/></svg>
<svg class="a" style="left:1075.23px;top:628.10px;" width="32.00" height="7.60" viewBox="-2 -2 32.00 7.60"><path d="M0 1.72 Q1.70 0.47 3.60 0.26 L6.33 0.52 L5.10 2.34 Q7.82 1.04 10.40 0.26 L12.15 0.52 L11.89 2.91 Q14.61 1.04 17.19 0.26 L19.57 0.52 L18.69 2.34 Q21.41 1.04 23.99 0.26 L25.85 0.52 L25.49 2.91 L28.00 1.17" fill="none" stroke="#E3E6EB" stroke-width="1.1" stroke-linejoin="round" stroke-linecap="round"/></svg>
<svg class="a" style="left:1127.33px;top:628.45px;" width="68.00" height="8.10" viewBox="-2 -2 68.00 8.10"><path d="M0 2.05 Q1.58 0.56 3.35 0.31 L4.69 0.62 L4.74 2.79 Q7.27 1.24 9.68 0.31 L12.16 0.62 L11.07 2.79 Q13.60 1.24 16.00 0.31 L17.98 0.62 L17.39 2.79 Q19.92 1.24 22.32 0.31 L24.09 0.62 L23.72 2.79 Q26.25 1.24 28.65 0.31 L30.01 0.62 L30.04 2.79 Q32.57 1.24 34.97 0.31 L37.09 0.62 L36.36 2.79 Q38.89 1.24 41.30 0.31 L43.07 0.62 L42.69 2.79 Q45.22 1.24 47.62 0.31 L49.50 0.62 L49.01 2.79 Q51.54 1.24 53.94 0.31 L56.62 0.62 L55.34 2.79 Q57.87 1.24 60.27 0.31 L61.61 0.62 L61.66 2.79 L64.00 1.40" fill="none" stroke="#1B2430" stroke-width="1.1" stroke-linejoin="round" stroke-linecap="round"/></svg>
<svg class="a" style="left:1214.63px;top:628.45px;" width="68.00" height="8.10" viewBox="-2 -2 68.00 8.10"><path d="M0 2.05 Q1.58 0.56 3.35 0.31 L5.20 0.62 L4.74 2.79 Q7.27 1.24 9.68 0.31 L10.98 0.62 L11.07 2.79 Q13.60 1.24 16.00 0.31 L17.77 0.62 L17.39 2.79 Q19.92 1.24 22.32 0.31 L23.78 0.62 L23.72 2.79 Q26.25 1.24 28.65 0.31 L30.25 0.62 L30.04 2.79 Q32.57 1.24 34.97 0.31 L37.28 0.62 L36.36 2.79 Q38.89 1.24 41.30 0.31 L43.96 0.62 L42.69 2.79 Q45.22 1.24 47.62 0.31 L49.16 0.62 L49.01 2.79 Q51.54 1.24 53.94 0.31 L55.95 0.62 L55.34 2.79 Q57.87 1.24 60.27 0.31 L62.27 0.62 L61.66 3.47 L64.00 1.40" fill="none" stroke="#E0354B" stroke-width="1.1" stroke-linejoin="round" stroke-linecap="round"/></svg>
<svg class="a" style="left:1075.23px;top:659.10px;" width="32.00" height="7.60" viewBox="-2 -2 32.00 7.60"><path d="M0 1.72 Q1.70 0.47 3.60 0.26 L6.33 0.52 L5.10 2.34 Q7.82 1.04 10.40 0.26 L12.15 0.52 L11.89 2.91 Q14.61 1.04 17.19 0.26 L19.57 0.52 L18.69 2.34 Q21.41 1.04 23.99 0.26 L25.85 0.52 L25.49 2.91 L28.00 1.17" fill="none" stroke="#E3E6EB" stroke-width="1.1" stroke-linejoin="round" stroke-linecap="round"/></svg>
<svg class="a" style="left:1162.93px;top:659.10px;" width="32.00" height="7.60" viewBox="-2 -2 32.00 7.60"><path d="M0 1.72 Q1.70 0.47 3.60 0.26 L5.27 0.52 L5.10 2.34 Q7.82 1.04 10.40 0.26 L13.18 0.52 L11.89 2.91 Q14.61 1.04 17.19 0.26 L19.61 0.52 L18.69 2.34 Q21.41 1.04 23.99 0.26 L25.91 0.52 L25.49 2.34 L28.00 1.17" fill="none" stroke="#E3E6EB" stroke-width="1.1" stroke-linejoin="round" stroke-linecap="round"/></svg>
<svg class="a" style="left:1250.23px;top:659.10px;" width="32.00" height="7.60" viewBox="-2 -2 32.00 7.60"><path d="M0 1.72 Q1.70 0.47 3.60 0.26 L4.93 0.52 L5.10 2.34 Q7.82 1.04 10.40 0.26 L12.05 0.52 L11.89 2.34 Q14.61 1.04 17.19 0.26 L19.59 0.52 L18.69 2.34 Q21.41 1.04 23.99 0.26 L25.42 0.52 L25.49 2.34 L28.00 1.17" fill="none" stroke="#E3E6EB" stroke-width="1.1" stroke-linejoin="round" stroke-linecap="round"/></svg>
<svg class="a" style="left:1075.23px;top:690.10px;" width="32.00" height="7.60" viewBox="-2 -2 32.00 7.60"><path d="M0 1.72 Q1.70 0.47 3.60 0.26 L6.33 0.52 L5.10 2.34 Q7.82 1.04 10.40 0.26 L12.15 0.52 L11.89 2.91 Q14.61 1.04 17.19 0.26 L19.57 0.52 L18.69 2.34 Q21.41 1.04 23.99 0.26 L25.85 0.52 L25.49 2.91 L28.00 1.17" fill="none" stroke="#E3E6EB" stroke-width="1.1" stroke-linejoin="round" stroke-linecap="round"/></svg>
<svg class="a" style="left:1162.93px;top:690.10px;" width="32.00" height="7.60" viewBox="-2 -2 32.00 7.60"><path d="M0 1.72 Q1.70 0.47 3.60 0.26 L5.27 0.52 L5.10 2.34 Q7.82 1.04 10.40 0.26 L13.18 0.52 L11.89 2.91 Q14.61 1.04 17.19 0.26 L19.61 0.52 L18.69 2.34 Q21.41 1.04 23.99 0.26 L25.91 0.52 L25.49 2.34 L28.00 1.17" fill="none" stroke="#E3E6EB" stroke-width="1.1" stroke-linejoin="round" stroke-linecap="round"/></svg>
<svg class="a" style="left:1250.23px;top:690.10px;" width="32.00" height="7.60" viewBox="-2 -2 32.00 7.60"><path d="M0 1.72 Q1.70 0.47 3.60 0.26 L4.93 0.52 L5.10 2.34 Q7.82 1.04 10.40 0.26 L12.05 0.52 L11.89 2.34 Q14.61 1.04 17.19 0.26 L19.59 0.52 L18.69 2.34 Q21.41 1.04 23.99 0.26 L25.42 0.52 L25.49 2.34 L28.00 1.17" fill="none" stroke="#E3E6EB" stroke-width="1.1" stroke-linejoin="round" stroke-linecap="round"/></svg>
<svg class="a" style="left:296.60px;top:255.80px;" width="8.4" height="5.4" viewBox="0 0 8.4 5.4"><path d="M0 0 L8.4 0 L4.2 5 Z" fill="#1B2430"/></svg>
<div class="t" style="font-size:14px;line-height:20px;top:248.45px;color:#1B2430;letter-spacing:-0.543px;font-weight:700;left:310.20px;">Usual Expenses</div>
<svg class="a" style="left:305.30px;top:283.00px;" width="15.70" height="14.00" viewBox="0 1.6 15.60 12.80" preserveAspectRatio="none"><circle cx="8" cy="8" r="5.5" fill="#dcdcdc" stroke="#c6c6c6" stroke-width=".5"/><circle cx="8" cy="8" r="3.7" fill="#cfcfcf"/><circle cx="8" cy="8" r="3.1" fill="#d9d9d9"/><path d="M0.2 1.6 H0.9 V4.6 H1.2 V1.6 H1.9 V4.6 H2.2 V1.6 H2.9 V5.4 Q2.9 6.6 2.1 6.9 L2.3 14.4 H0.8 L1 6.9 Q0.2 6.6 0.2 5.4 Z" fill="#a3a3a3"/><path d="M13.9 1.6 Q15.8 2.4 15.7 8.2 L15.2 8.4 L15.5 14.4 H14 Z" fill="#a8a8a8"/></svg>
<div class="t" style="font-size:14px;line-height:20px;top:280.15px;color:#1F2933;letter-spacing:-0.301px;-webkit-text-stroke:0.10px #1F2933;left:324.80px;">Food</div>
<svg class="a" style="left:307.00px;top:313.70px;" width="13.00" height="15.00" viewBox="2 0.6 13.00 15.40" preserveAspectRatio="none"><defs><radialGradient id="cf" cx=".45" cy=".35" r=".7"><stop offset="0" stop-color="#ffd84a"/><stop offset="1" stop-color="#e8920c"/></radialGradient></defs><path d="M4.2 16 C4.2 14 5.8 13.4 8.4 13.4 C11 13.4 12.4 14 12.4 16 Z" fill="#e2e2e2"/><circle cx="8.4" cy="9.6" r="4.7" fill="url(#cf)"/><path d="M3.4 5.4 C1.6 4.8 2 2.2 4.2 2.4 C4.8 0.8 7.4 0.6 8.4 1.6 C9.6 0.6 12.2 1 12.4 2.4 C14.6 2.2 15 4.8 13.4 5.4 L13.2 6.4 L3.6 6.4 Z" fill="#dadada" stroke="#9f9f9f" stroke-width=".6"/><ellipse cx="6.8" cy="9.2" rx=".65" ry=".9" fill="#5a3a12"/><ellipse cx="10" cy="9.2" rx=".65" ry=".9" fill="#5a3a12"/><path d="M6.8 11.6 Q8.4 12.8 10 11.6" stroke="#6b3f10" stroke-width=".6" fill="none"/><path d="M13 12 L14.2 14.6" stroke="#e3a070" stroke-width="1.3" stroke-linecap="round"/><circle cx="13.2" cy="11.8" r="1.1" fill="#f0b98e"/></svg>
<div class="t" style="font-size:14px;line-height:20px;top:311.15px;color:#1F2933;letter-spacing:-0.245px;-webkit-text-stroke:0.10px #1F2933;left:324.80px;">Restaurants</div>
<svg class="a" style="left:306.70px;top:344.70px;" width="12.50" height="15.30" viewBox="2.2 1.4 11.60 13.80" preserveAspectRatio="none"><path d="M3 6 C1.8 5 2.6 3.2 4 3.4 C4.2 1.8 6.2 1.4 7 2.6 C7.8 1.2 10 1.4 10.4 3 C12 2.4 13.6 4 12.8 5.6 L13 6.4 L3 6.4 Z" fill="#f7e3a0"/><path d="M2.2 5.8 L13.8 5.8 L12.2 15.2 L3.8 15.2 Z" fill="#cc382c"/><path d="M4.6 5.8 L6.4 5.8 L6.8 15.2 L5.4 15.2 Z M9.6 5.8 L11.4 5.8 L10.6 15.2 L9.2 15.2 Z" fill="#fbe9e4"/></svg>
<div class="t" style="font-size:14px;line-height:20px;top:342.15px;color:#1F2933;letter-spacing:-0.116px;-webkit-text-stroke:0.10px #1F2933;left:324.80px;">Entertainment</div>
<svg class="a" style="left:305.00px;top:375.00px;" width="16.00" height="16.00" viewBox="0.6 1.6 14.80 14.00" preserveAspectRatio="none"><path d="M7 4.6 L14 4 L15.4 14 L8.6 15 Z" fill="#f2c230"/><path d="M9.4 4.6 C9.4 1.6 12.2 1.4 12.4 4.2" fill="none" stroke="#b8860b" stroke-width=".7"/><path d="M1.6 5.6 L9.4 5 L10.8 15.4 L0.6 15.6 Z" fill="#ee3fb4"/><path d="M3.4 5.8 C3.4 2.2 7.4 2 7.6 5.4" fill="none" stroke="#a0207a" stroke-width=".7"/><path d="M9.4 5 L10.8 15.4 L9 15.4 Z" fill="#c42d93"/></svg>
<div class="t" style="font-size:14px;line-height:20px;top:373.15px;color:#1F2933;letter-spacing:-0.024px;-webkit-text-stroke:0.10px #1F2933;left:324.80px;">Clothing</div>
<svg class="a" style="left:305.00px;top:406.00px;" width="16.30" height="16.00" viewBox="0.6 1.6 14.40 13.60" preserveAspectRatio="none"><g transform="translate(15.6,0) scale(-1,1)"><path d="M0.6 1.8 L2.6 2.2 L4.8 10.8 L13 10.8" fill="none" stroke="#a7abb0" stroke-width="1"/><path d="M3.2 3.8 L15 3.4 L13.6 9.2 L4.6 9.8 Z" fill="#dcdee1" stroke="#b7bbc0" stroke-width=".6"/><path d="M6 3.8 L6.6 9.6 M8.6 3.7 L8.8 9.5 M11.2 3.6 L10.8 9.4 M13.4 3.5 L12.4 9.3 M3.9 5.8 L14.5 5.4 M4.4 7.8 L13.9 7.4" stroke="#bfc3c8" stroke-width=".45" fill="none"/><path d="M4.6 10.8 L4 12.8 L13.4 12.8" fill="none" stroke="#a7abb0" stroke-width=".9"/><circle cx="4.6" cy="14" r="1.25" fill="#4a4d52"/><circle cx="12.6" cy="14" r="1.25" fill="#4a4d52"/></g></svg>
<div class="t" style="font-size:14px;line-height:20px;top:404.15px;color:#1F2933;letter-spacing:-0.275px;-webkit-text-stroke:0.10px #1F2933;left:324.80px;">General</div>
<svg class="a" style="left:305.30px;top:437.00px;" width="16.00" height="15.60" viewBox="1.4 1 13.20 14.40" preserveAspectRatio="none"><path d="M1.4 5.6 L8 7.8 L8 15.4 L1.4 12.6 Z" fill="#f4ab1e"/><path d="M8 7.8 L14.6 5.6 L14.6 12.6 L8 15.4 Z" fill="#dd5a1a"/><path d="M1.4 5.6 L8 3.6 L14.6 5.6 L8 7.8 Z" fill="#f7bf3a"/><path d="M3.8 6.4 L5.8 7.1 L5.8 14.5 L3.8 13.6 Z" fill="#d9302a"/><path d="M10 7.2 L12.6 6.3 L12.6 13.5 L10 14.6 Z" fill="#c32620"/><path d="M3.8 4.9 L10.2 7.1 L12.4 6.3 L6 4.2 Z M12.2 4.9 L5.8 7.1 L3.6 6.3 L10 4.2 Z" fill="#e13a32"/><path d="M8 4.4 C6 1 3.2 1.6 4.2 3.6 C5 4.8 7 4.6 8 4.4 C9 4.6 11 4.8 11.8 3.6 C12.8 1.6 10 1 8 4.4 Z" fill="#e2352f"/></svg>
<div class="t" style="font-size:14px;line-height:20px;top:435.15px;color:#1F2933;letter-spacing:-0.078px;-webkit-text-stroke:0.10px #1F2933;left:324.80px;">Gift</div>
<svg class="a" style="left:305.30px;top:468.60px;" width="15.00" height="14.40" viewBox="2 0.8 12.50 14.10" preserveAspectRatio="none"><path d="M2 1.6 L3.2 0.8 L11.4 10.6 L10 11.8 Z" fill="#f6f8f9" stroke="#dde1e4" stroke-width=".5"/><path d="M3.6 2.6 L4.6 2 M4.8 4 L5.8 3.4 M6 5.4 L7 4.8" stroke="#cfe3e0" stroke-width=".4"/><path d="M6.6 6.4 L10.8 11" stroke="#a81c26" stroke-width="1.7" stroke-linecap="round"/><circle cx="11.7" cy="11.9" r="2.8" fill="#c4252e"/><circle cx="11" cy="11.2" r=".9" fill="#e8767c"/></svg>
<div class="t" style="font-size:14px;line-height:20px;top:466.15px;color:#1F2933;letter-spacing:0.027px;-webkit-text-stroke:0.10px #1F2933;left:324.80px;">Medical</div>
<svg class="a" style="left:307.50px;top:499.30px;" width="11.30" height="15.50" viewBox="2.8 0.8 10.40 14.60" preserveAspectRatio="none"><path d="M4.6 3.4 L11.4 3.4 C13 4.2 13.2 5.2 13.2 6.4 L13.2 13 C13.2 14.6 12.2 15.4 10.8 15.4 L5.2 15.4 C3.8 15.4 2.8 14.6 2.8 13 L2.8 6.4 C2.8 5.2 3 4.2 4.6 3.4 Z" fill="#ececec" stroke="#8d9093" stroke-width=".7"/><rect x="4" y="0.9" width="8" height="2.6" rx="1" fill="#e2e2e2" stroke="#8d9093" stroke-width=".65"/><path d="M4.2 2.2 H11.8" stroke="#a9acaf" stroke-width=".5"/><path d="M4.6 6.6 L4.6 12.4" stroke="#fafafa" stroke-width="1"/><path d="M5 14.2 Q8 15 11 14.2" stroke="#b5b8bb" stroke-width=".5" fill="none"/></svg>
<div class="t" style="font-size:14px;line-height:20px;top:497.15px;color:#1F2933;letter-spacing:-0.198px;-webkit-text-stroke:0.10px #1F2933;left:324.80px;">Savings</div>
<svg class="a" style="left:296.60px;top:534.80px;" width="8.4" height="5.4" viewBox="0 0 8.4 5.4"><path d="M0 0 L8.4 0 L4.2 5 Z" fill="#1B2430"/></svg>
<div class="t" style="font-size:14px;line-height:20px;top:527.45px;color:#1B2430;letter-spacing:-0.730px;font-weight:700;left:310.20px;">Bills</div>
<svg class="a" style="left:308.70px;top:561.20px;" width="8.90" height="15.60" viewBox="3.6 0.6 8.80 14.80" preserveAspectRatio="none"><rect x="3.6" y="0.6" width="8.8" height="14.8" rx="1.5" fill="#1d1e20"/><rect x="4.4" y="2" width="7.2" height="11.4" fill="#0e0f10"/><path d="M5 2.8 h1.5 v1.3 h-1.5z" fill="#58c27a"/><path d="M7.2 2.8 h1.5 v1.3 h-1.5z" fill="#e8e8e8"/><path d="M9.4 2.8 h1.5 v1.3 h-1.5z" fill="#c05ad0"/><path d="M5 5.4 h1.5 v1.3 h-1.5z" fill="#4a78c8"/><path d="M7.2 5.4 h1.5 v1.3 h-1.5z" fill="#d86a4a"/><path d="M9.4 5.4 h1.5 v1.3 h-1.5z" fill="#6a5ad0"/><path d="M5 8 h1.5 v1.3 h-1.5z" fill="#c8a23a"/><path d="M7.2 8 h1.5 v1.3 h-1.5z" fill="#3a8ac8"/><rect x="4.8" y="11.4" width="6.4" height="1.5" rx=".4" fill="#3a4a52"/><circle cx="8" cy="14.3" r=".55" fill="#55585c"/></svg>
<div class="t" style="font-size:14px;line-height:20px;top:559.15px;color:#1F2933;letter-spacing:-0.187px;-webkit-text-stroke:0.10px #1F2933;left:324.80px;">Cell</div>
<svg class="a" style="left:305.50px;top:592.10px;" width="15.30" height="14.80" viewBox="0.8 0.8 14.40 14.40" preserveAspectRatio="none"><circle cx="8" cy="8" r="7.2" fill="#62b4e2"/><circle cx="8" cy="8" r="7.2" fill="none" stroke="#3f97cf" stroke-width=".5"/><ellipse cx="8" cy="8" rx="3.3" ry="7" fill="none" stroke="#e4f4fd" stroke-width=".9" opacity=".85"/><path d="M8 1 V15 M1 8 H15 M2.2 4.4 H13.8 M2.2 11.6 H13.8" stroke="#e4f4fd" stroke-width=".9" fill="none" opacity=".85"/></svg>
<div class="t" style="font-size:14px;line-height:20px;top:590.15px;color:#1F2933;letter-spacing:0.001px;-webkit-text-stroke:0.10px #1F2933;left:324.80px;">Internet</div>
<svg class="a" style="left:304.80px;top:623.50px;" width="16.50" height="15.30" viewBox="0.4 0.8 15.60 14.60" preserveAspectRatio="none"><circle cx="4.6" cy="4.6" r="3.8" fill="#5aa23a"/><circle cx="2.6" cy="7" r="2.2" fill="#4b9030"/><rect x="2.4" y="8" width="1.1" height="5" fill="#7a4d28"/><path d="M5.4 8.6 L14.6 8.6 L14.6 14.6 L5.4 14.6 Z" fill="#f0d9b0"/><path d="M10 3.4 L16 8.8 L14.4 9.2 L10 5.4 L5.6 9.2 L4 8.8 Z" fill="#c8472f"/><path d="M10 5.4 L14.4 9.2 L5.6 9.2 Z" fill="#f0d9b0"/><rect x="6.6" y="10.4" width="2.2" height="4.2" fill="#9a5b36"/><rect x="10" y="10.2" width="3.2" height="2.6" fill="#6fb6e6"/><circle cx="13.6" cy="14.2" r="1.4" fill="#4b9030"/><rect x="1" y="14.4" width="14.4" height="1" fill="#7ab648"/></svg>
<div class="t" style="font-size:14px;line-height:20px;top:621.15px;color:#1F2933;letter-spacing:0.055px;-webkit-text-stroke:0.10px #1F2933;left:324.80px;">Mortgage</div>
<svg class="a" style="left:305.60px;top:655.60px;" width="14.90" height="13.70" viewBox="0.8 1 14.60 14.00" preserveAspectRatio="none"><defs><linearGradient id="dg" x1="0" y1="0" x2="1" y2="1"><stop offset="0" stop-color="#7fd0fa"/><stop offset="1" stop-color="#1f9cec"/></linearGradient></defs><path d="M5.6 1.4 C8 0.6 14.8 0.4 15.2 3.6 C15.4 6.2 11.6 7.4 9.4 5.6 C8 4.4 7 2.8 5.6 1.4 Z" fill="url(#dg)"/><path d="M3.2 5.2 C5.4 7.6 7 9.6 6.2 11.8 C5.4 14 2 14 1.2 11.8 C0.4 9.6 2 7.4 3.2 5.2 Z" fill="url(#dg)"/><path d="M9 8 C10.6 9.8 12.2 11.2 11.8 13 C11.4 14.8 8.6 14.8 8.2 13 C7.8 11.4 8.4 9.8 9 8 Z" fill="url(#dg)"/><path d="M8.6 2 C10.4 1.6 12.6 1.8 13.6 2.8" stroke="#d2eefd" stroke-width=".8" fill="none" stroke-linecap="round"/><path d="M2.6 8 C2 9 1.8 10.2 2.2 11.2" stroke="#c4e8fc" stroke-width=".7" fill="none" stroke-linecap="round"/></svg>
<div class="t" style="font-size:14px;line-height:20px;top:652.15px;color:#1F2933;letter-spacing:-0.154px;-webkit-text-stroke:0.10px #1F2933;left:324.80px;">Water</div>
<svg class="a" style="left:307.50px;top:685.00px;" width="11.00" height="15.80" viewBox="-0.3 -0.3 11.20 16.00" preserveAspectRatio="none"><path d="M8.33 0 L0.08 8.4 L4.2 8.1 L0.75 15.4 L10.6 6 L5.6 6.25 Z" fill="#fdd43a" stroke="#f2a126" stroke-width=".75" stroke-linejoin="round"/><path d="M6.6 2.6 L2.4 7.4 L5.6 7.2 L3.6 11.4" stroke="#fff3a8" stroke-width=".7" fill="none" opacity=".8"/></svg>
<div class="t" style="font-size:14px;line-height:20px;top:683.15px;color:#1F2933;letter-spacing:-0.203px;-webkit-text-stroke:0.10px #1F2933;left:324.80px;">Power</div>
<div class="a" style="left:0;top:0;width:1304px;height:712px;border-radius:0 0 9px 9px;box-shadow:inset 1px 0 0 rgba(255,255,255,.2),inset 0 1px 0 rgba(255,255,255,.05),inset 0 -1px 0 rgba(255,255,255,.14);pointer-events:none;"></div>
</div></body></html>
